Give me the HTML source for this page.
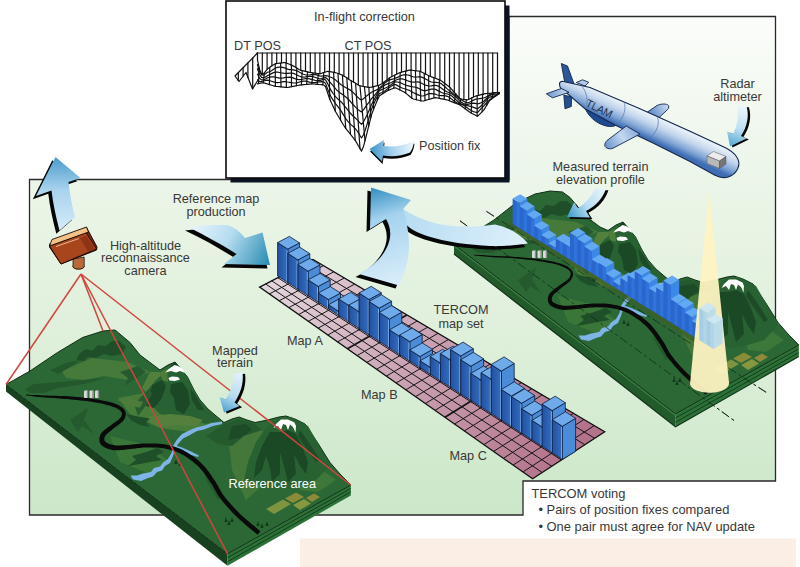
<!DOCTYPE html>
<html><head><meta charset="utf-8"><title>TERCOM</title>
<style>
html,body{margin:0;padding:0;background:#fff;}
body{width:800px;height:567px;overflow:hidden;}
svg{display:block;}
text{font-family:"Liberation Sans",sans-serif;font-size:12.7px;fill:#383838;}
</style></head><body>
<svg width="800" height="567" viewBox="0 0 800 567">

<defs>
<linearGradient id="gPanel" x1="0" y1="0" x2="0" y2="1">
 <stop offset="0" stop-color="#fbfdfa"/><stop offset="0.3" stop-color="#edf6ea"/><stop offset="0.62" stop-color="#e0f0dc"/><stop offset="1" stop-color="#cbe7c8"/>
</linearGradient>
<linearGradient id="gArrUp" x1="0" y1="0" x2="0" y2="1">
 <stop offset="0" stop-color="#4b9ccb"/><stop offset="0.45" stop-color="#a9d3ee"/><stop offset="1" stop-color="#d6ebf8"/>
</linearGradient>
<linearGradient id="gArrRef" gradientUnits="userSpaceOnUse" x1="195" y1="225" x2="268" y2="262">
 <stop offset="0" stop-color="#e4f2fa"/><stop offset="0.45" stop-color="#b4dcf0"/><stop offset="1" stop-color="#2f8fb4"/>
</linearGradient>
<linearGradient id="gArrBig" gradientUnits="userSpaceOnUse" x1="372" y1="190" x2="400" y2="285">
 <stop offset="0" stop-color="#3a93c4"/><stop offset="0.3" stop-color="#a5d2ee"/><stop offset="1" stop-color="#dbeefa"/>
</linearGradient>
<linearGradient id="gArrBig2" gradientUnits="userSpaceOnUse" x1="400" y1="215" x2="528" y2="240">
 <stop offset="0" stop-color="#b7dcf2"/><stop offset="1" stop-color="#def0fb"/>
</linearGradient>
<linearGradient id="gArrPos" gradientUnits="userSpaceOnUse" x1="370" y1="150" x2="414" y2="146">
 <stop offset="0" stop-color="#3a93c4"/><stop offset="0.5" stop-color="#a5d2ee"/><stop offset="1" stop-color="#eef7fc"/>
</linearGradient>
<linearGradient id="gArrMap" gradientUnits="userSpaceOnUse" x1="243" y1="372" x2="224" y2="412">
 <stop offset="0" stop-color="#e8f4fb"/><stop offset="0.6" stop-color="#b6dcf2"/><stop offset="1" stop-color="#4aa0cc"/>
</linearGradient>
<linearGradient id="gArrMeas" gradientUnits="userSpaceOnUse" x1="606" y1="190" x2="568" y2="216">
 <stop offset="0" stop-color="#eaf5fb"/><stop offset="0.55" stop-color="#b6dcf2"/><stop offset="1" stop-color="#3f9cc8"/>
</linearGradient>
<linearGradient id="gArrRad" gradientUnits="userSpaceOnUse" x1="745" y1="106" x2="731" y2="146">
 <stop offset="0" stop-color="#eef7fc"/><stop offset="0.55" stop-color="#bfe0f3"/><stop offset="1" stop-color="#55a8d2"/>
</linearGradient>
<linearGradient id="gGrid" gradientUnits="userSpaceOnUse" x1="270" y1="275" x2="570" y2="455">
 <stop offset="0" stop-color="#e4d6dd"/><stop offset="0.5" stop-color="#c9a0b1"/><stop offset="1" stop-color="#b3738a"/>
</linearGradient>
<linearGradient id="gBarF" x1="0" y1="0" x2="1" y2="0">
 <stop offset="0" stop-color="#2350a0"/><stop offset="1" stop-color="#346fc0"/>
</linearGradient>
<linearGradient id="gBody" gradientUnits="userSpaceOnUse" x1="0" y1="-12" x2="0" y2="12">
 <stop offset="0" stop-color="#c6d9ee"/><stop offset="0.3" stop-color="#dbe8f5"/><stop offset="0.65" stop-color="#8fb3dc"/><stop offset="1" stop-color="#3d6fb4"/>
</linearGradient>
<linearGradient id="gWing" x1="0" y1="0" x2="1" y2="1">
 <stop offset="0" stop-color="#c9dcf0"/><stop offset="1" stop-color="#6f9cd0"/>
</linearGradient>
<linearGradient id="gBeam" x1="0" y1="0" x2="0" y2="1">
 <stop offset="0" stop-color="#fbf6cf"/><stop offset="1" stop-color="#fdf0b8"/>
</linearGradient>
</defs>

<path d="M29.5,179.5 H509 V16.5 H775.5 V481 H523 V515 H29.5 Z" fill="url(#gPanel)" stroke="#2a2a2a" stroke-width="1.3"/>
<rect x="300" y="538.5" width="496" height="29" fill="#faeee5"/>
<line x1="486.5" y1="211.4" x2="768" y2="393.5" stroke="#222" stroke-width="0.9" stroke-dasharray="9,3,3,3"/>
<line x1="460" y1="220.8" x2="734" y2="420.5" stroke="#222" stroke-width="0.9" stroke-dasharray="9,3,3,3"/>
<g id="terrL"><polygon points="6,384.5 227.5,553.8 227.5,565.8 6,391.5" fill="#18421f"/><polygon points="227.5,553.8 350.8,485 350.8,495.5 227.5,565.8" fill="#2c7238"/><line x1="227.5" y1="557.7" x2="350.75" y2="488.5" stroke="#153c1c" stroke-width="1"/><line x1="227.5" y1="561.7" x2="350.75" y2="491.9" stroke="#153c1c" stroke-width="1"/><polygon points="6,384.5 30,371 57.5,352.5 82.5,337.5 103,331 115,330 130,342.5 140,355 152,364 160,370 168,365 175,362 181,369 187.5,377 194,390 200,400 208,409 215,415 224,422.5 232,419 239,417 247,420 255,422.5 267.5,420 279,417 286,416 295,419 305,424 311,433 317.5,442.5 324,453 330,462.5 340,474 350.8,485 227.5,553.8" fill="#2c6835" stroke="#102e16" stroke-width="1"/><path d="M62,371 L92,358 L110,360 L128,362 L150,372 L128,380 L104,376 L84,380 L66,378 Z" fill="#457a3a"/><path d="M118,398 L150,392 L176,402 L200,412 L214,424 L190,432 L160,428 L130,414 Z" fill="#477d3b"/><path d="M228,436 L262,430 L270,452 L262,486 L246,500 L232,470 Z" fill="#44783a"/><path d="M150,372 L166,372 L172,380 L170,396 L158,404 L142,388 Z" fill="#527f3c"/><path d="M110,436 L150,446 L170,462 L150,474 L120,462 Z" fill="#3a7638"/><path d="M296,476 L322,470 L336,480 L318,492 L300,490 Z" fill="#3d7739"/><path d="M80,353 L86,349 L92,351 L98,345 L106,346 L112,341 L119,341 L126,347 L122,354 L112,356 L104,354 L96,358 L88,357 L84,361 L76,360 Z" fill="#1f4f29"/><path d="M50,370 L66,363 L80,360 L72,366 L58,374 Z" fill="#23582d"/><path d="M24.5,389.5 L34,384 L60,382 L105.5,378 L84,384 L58,388 L44,393 L30,393 Z" fill="#23582d"/><path d="M70,420 L88,408 L84,420 L94,434 L82,426 L78,432 Z" fill="#245a2e"/><path d="M120,372 L138,366 L146,372 L134,380 L124,386 L128,378 Z" fill="#245a2e"/><path d="M175,362.3 L166,371 L156,380 L146,392 L138,408 L150,404 L160,414 L176,418 L192,420 L206,424 L218,420 L208,409 L200,400 L194,390 L187.5,377 L181,369 Z" fill="#296232"/><path d="M152,385 L162,380 L166,386 L162,398 L154,408 L146,406 L150,396 Z" fill="#1b4825"/><path d="M171,384 L182,382 L188,390 L190,404 L184,414 L176,410 L174,398 L170,392 Z" fill="#1b4825"/><path d="M160,372 L167,369 L168,382 L162,380 Z" fill="#4c7d3b"/><path d="M190,388 L196,396 L204,410 L198,410 L192,400 Z" fill="#1d4b27"/><path d="M134,404 L150,388 L152,394 L144,408 L138,416 Z" fill="#275c30"/><path d="M279,418 L266,428 L256,442 L248,462 L244,480 L262,486 L290,488 L316,480 L330,466 L317.5,442.5 L308,426 L290,417 Z" fill="#296232"/><path d="M270,432 L262,446 L256,462 L254,478 L262,470 L266,456 L270,468 L272,482 L280,474 L280,452 L284,466 L288,482 L296,474 L294,454 L300,466 L306,474 L308,462 L302,446 L296,434 L288,430 L280,432 Z" fill="#1b4825"/><path d="M300,430 L310,444 L320,460 L316,462 L306,448 L298,436 Z" fill="#1d4b27"/><path d="M224,424 L239,419 L255,424 L262,430 L244,436 L232,446 L218,444 L206,436 Z" fill="#245a2e"/><path d="M232,426 L246,424 L252,430 L240,438 L228,440 Z" fill="#1d4b27"/><path d="M175,362.3 L170,367 L175,366.5 L180,367.5 Z" fill="#173f20"/><path d="M174.5,365 L168,369.5 L165.5,372.5 L171,371 L176,372.5 L180,371 L185,373 L182,368.5 L178,366 Z" fill="#fff"/><path d="M168.5,378 L172,376.5 L178,377 L180,379.5 L175,381 L169.5,380.5 Z" fill="#fff"/><path d="M281,419.5 L276,424 L273.5,428 L278,426 L281,430 L283,424 L286,425 L288,430 L290,424.5 L293,427 L295.5,432.5 L296,426 L294.5,422.5 L288,419.5 Z" fill="#fff"/><path d="M148,417 L170,414 L190,416 L203,420 L196,426 L176,425 L160,427 L150,423 Z" fill="#557f3c"/><path d="M118,400 L130,398.5 L143,402 L140,407.5 L128,406 Z" fill="#4d7c3b"/><path d="M126,414 L138,416.5 L150,418.5 L146,422 L150,427 L140,425 L132,421 Z" fill="#1f4f29"/><path d="M132,456 L146,452 L158,448 L164,452 L156,456 L162,460 L150,462 L140,464 L128,466 L136,460 Z" fill="#1f4f29"/><path d="M204,470 L210,476 L216,488 L222,498 L218,500 L212,490 L206,480 Z" fill="#245a2e"/><polygon points="222,421.5 212,423 203,426 196,427.5 188,431 182,434 177,439.5 173,446 171.5,453 168,459 163,462.5 160,466.5 154,468 151,472 143,473.5 137,475.5 130.5,475.5 133,479.5 141,481 148,478 153,476.5 157,472 162,470.5 165,466 170,463 173,456 175,449 178,444 183,438.5 189,435.5 197,431 204,429.5 213,426 222,424" fill="#7eb4e6"/><polygon points="174,445 182,447.5 190,451 199,455.5 198,457 188,454 180,451 173,449" fill="#7eb4e6"/><polygon points="26,395.4 27.4,395.6 29.3,395.8 31.6,396.1 34.2,396.4 36.9,396.7 39.7,397 42.4,397.2 44.9,397.5 47.4,397.7 49.8,397.8 52.2,398 54.6,398.1 57,398.3 59.6,398.5 62.2,398.7 64.9,398.9 67.8,399.1 70.8,399.4 74,399.7 77.2,400 80.5,400.4 83.7,400.7 86.8,401.1 89.8,401.6 92.7,402.1 95.7,402.6 98.7,403.1 101.6,403.6 104.3,404.2 106.9,404.9 109.3,405.5 111.5,406.2 113.4,406.9 115.1,407.6 116.6,408.3 118,409.1 119.2,409.9 120.1,410.6 120.9,411.4 121.4,412.1 121.8,412.7 121.9,413.3 122,413.9 121.9,414.6 121.7,415.3 121.4,416.2 120.9,417 120.4,417.8 119.7,418.6 118.8,419.5 117.6,420.4 116.3,421.3 114.9,422.3 113.4,423.3 112,424.3 110.7,425.4 109.4,426.3 108.1,427.3 106.8,428.2 105.5,429.2 104.2,430.3 102.9,431.4 101.8,432.5 100.9,433.8 100.3,435.1 99.8,436.4 99.5,437.8 99.3,439.2 99.4,440.6 99.6,442 100.2,443.4 101,444.6 102.1,445.7 103.3,446.6 104.7,447.4 106.2,448.1 107.7,448.7 109.3,449.2 110.9,449.6 112.6,450 114.2,450.2 115.8,450.3 117.4,450.2 119,450.2 120.7,450 122.4,449.9 124.2,449.7 126.2,449.5 128.3,449.3 130.6,449.1 132.9,448.8 135.4,448.4 137.8,448.1 140.3,447.9 142.7,447.6 145.1,447.5 147.4,447.4 149.8,447.4 152.2,447.4 154.5,447.4 156.8,447.5 159.1,447.7 161.4,447.9 163.7,448.3 165.9,448.7 168.1,449.2 170.3,449.7 172.5,450.3 174.6,451.1 176.8,451.9 178.9,452.8 181,453.9 183.2,455.1 185.5,456.5 187.8,458 190,459.6 192.3,461.2 194.4,463 196.5,464.8 198.4,466.6 200.2,468.5 202,470.5 203.6,472.5 205.2,474.7 206.8,476.9 208.3,479.1 209.7,481.2 211.1,483.2 212.4,485.1 213.4,486.9 214.4,488.7 215.3,490.5 216.3,492.3 217.4,494.3 218.7,496.3 220.2,498.3 221.9,500.5 223.7,502.7 225.6,505 227.6,507.3 229.7,509.6 231.9,512 234.1,514.3 236.4,516.6 239,519 241.9,521.6 245,524.3 248.1,526.9 251,529.3 253.7,531.5 255.9,533.3 257.6,534.7 260.4,531.3 258.8,529.9 256.5,528 253.9,525.8 250.9,523.4 247.9,520.8 244.9,518.2 242,515.7 239.6,513.4 237.3,511.1 235.1,508.9 233,506.6 230.9,504.3 229,502.1 227.1,499.9 225.4,497.7 223.8,495.7 222.4,493.7 221.3,491.9 220.3,490.1 219.3,488.4 218.3,486.6 217.3,484.7 216.2,482.8 214.9,480.8 213.5,478.7 212,476.5 210.5,474.3 208.9,472.1 207.2,469.8 205.4,467.6 203.5,465.4 201.6,463.4 199.5,461.5 197.3,459.6 195,457.8 192.6,456 190.2,454.4 187.7,452.8 185.3,451.4 183,450.1 180.6,449 178.3,448 176,447.2 173.7,446.4 171.3,445.8 169,445.2 166.7,444.8 164.3,444.3 161.9,444 159.5,443.7 157.1,443.5 154.6,443.4 152.2,443.4 149.8,443.4 147.3,443.4 144.9,443.5 142.5,443.6 139.9,443.8 137.4,444 134.9,444.2 132.4,444.5 130.1,444.7 127.9,444.9 125.8,445.1 123.9,445.2 122.1,445.3 120.4,445.4 118.8,445.4 117.4,445.4 116,445.4 114.7,445.3 113.4,445 112.1,444.7 110.8,444.4 109.4,443.9 108.2,443.4 107.1,442.9 106.1,442.3 105.4,441.8 105,441.4 104.7,441 104.5,440.5 104.4,439.9 104.3,439.3 104.3,438.5 104.5,437.7 104.7,437 105.1,436.2 105.5,435.5 106.2,434.6 107.2,433.7 108.3,432.8 109.5,431.8 110.8,430.7 112.1,429.7 113.3,428.6 114.5,427.7 115.8,426.7 117.3,425.7 118.7,424.7 120.1,423.6 121.4,422.5 122.6,421.4 123.6,420.2 124.4,419 125,417.8 125.4,416.5 125.7,415.2 125.8,413.9 125.7,412.5 125.3,411.2 124.6,409.9 123.7,408.8 122.6,407.8 121.3,406.9 119.9,406 118.3,405.1 116.5,404.3 114.6,403.6 112.5,402.8 110.3,402.2 107.8,401.5 105,400.9 102.2,400.4 99.2,399.8 96.2,399.3 93.2,398.9 90.2,398.4 87.2,398 84,397.7 80.8,397.3 77.5,397 74.3,396.8 71.1,396.5 68,396.3 65.1,396.1 62.3,396 59.7,395.9 57.1,395.8 54.7,395.7 52.3,395.7 49.9,395.7 47.5,395.6 45.1,395.5 42.5,395.4 39.8,395.3 37,395.1 34.3,395 31.7,394.9 29.4,394.7 27.5,394.6 26,394.6" fill="#0a0a0a"/><polygon points="266,509 283,499.5 291,504 274,514" fill="#7f9440"/><polygon points="285,498.5 296,492.5 304,497 293,503" fill="#8a8c3a"/><polygon points="293,505 304,499 311,503.5 300,510" fill="#86983f"/><polygon points="306,498 314,493.5 320,497 312,502" fill="#8e8a3a"/><rect x="84" y="390.5" width="4" height="7.5" rx="1" fill="#d9d9d9"/><rect x="86.8" y="390.5" width="1.3" height="7.5" fill="#8a8a8a"/><rect x="89.5" y="390.5" width="4" height="7.5" rx="1" fill="#d9d9d9"/><rect x="92.3" y="390.5" width="1.3" height="7.5" fill="#8a8a8a"/><rect x="95" y="390.5" width="4" height="7.5" rx="1" fill="#d9d9d9"/><rect x="97.8" y="390.5" width="1.3" height="7.5" fill="#8a8a8a"/><path d="M176,459 l-1.6,5 h3.2 Z" fill="#123a18"/><path d="M180,461 l-1.6,5 h3.2 Z" fill="#123a18"/><path d="M226,517 l-1.6,5 h3.2 Z" fill="#123a18"/><path d="M229,520 l-1.6,5 h3.2 Z" fill="#123a18"/><path d="M232,517 l-1.6,5 h3.2 Z" fill="#123a18"/><path d="M262,523 l-1.6,5 h3.2 Z" fill="#123a18"/><path d="M267,521 l-1.6,5 h3.2 Z" fill="#123a18"/><path d="M258,521 l-1.6,5 h3.2 Z" fill="#123a18"/></g>
<g transform="translate(448,-140)"><g id="terrR"><polygon points="6,384.5 227.5,553.8 227.5,566.8 6,394" fill="#235a2c"/><polygon points="227.5,553.8 350.8,485 350.8,496.5 227.5,566.8" fill="#2c7238"/><line x1="227.5" y1="558" x2="350.75" y2="488.8" stroke="#153c1c" stroke-width="1"/><line x1="227.5" y1="562.3" x2="350.75" y2="492.6" stroke="#153c1c" stroke-width="1"/><polyline points="6,394 227.5,566.8 350.8,496.5" fill="none" stroke="#133519" stroke-width="1.2"/><line x1="6.5" y1="386" x2="227.5" y2="555.2" stroke="#3a7f42" stroke-width="1.6"/><polygon points="6,384.5 30,370 46,360 67,343.5 87,334 102,331 114.5,332 122,337.5 132,349.5 142,359.5 152,367 160,370.5 168,365 175,362 181,369 187.5,377 194,390 200,400 208,409 215,415 224,422.5 232,419 239,417 247,420 255,422.5 267.5,420 279,417 286,416 295,419 305,424 311,433 317.5,442.5 324,453 330,462.5 340,474 350.8,485 227.5,553.8" fill="#2c6835" stroke="#102e16" stroke-width="1"/><path d="M62,371 L92,358 L110,360 L128,362 L150,372 L128,380 L104,376 L84,380 L66,378 Z" fill="#457a3a"/><path d="M118,398 L150,392 L176,402 L200,412 L214,424 L190,432 L160,428 L130,414 Z" fill="#477d3b"/><path d="M228,436 L262,430 L270,452 L262,486 L246,500 L232,470 Z" fill="#44783a"/><path d="M150,372 L166,372 L172,380 L170,396 L158,404 L142,388 Z" fill="#527f3c"/><path d="M110,436 L150,446 L170,462 L150,474 L120,462 Z" fill="#3a7638"/><path d="M296,476 L322,470 L336,480 L318,492 L300,490 Z" fill="#3d7739"/><path d="M80,353 L86,349 L92,351 L98,345 L106,346 L112,341 L119,341 L126,347 L122,354 L112,356 L104,354 L96,358 L88,357 L84,361 L76,360 Z" fill="#1f4f29"/><path d="M50,370 L66,363 L80,360 L72,366 L58,374 Z" fill="#23582d"/><path d="M24.5,389.5 L34,384 L60,382 L105.5,378 L84,384 L58,388 L44,393 L30,393 Z" fill="#23582d"/><path d="M70,420 L88,408 L84,420 L94,434 L82,426 L78,432 Z" fill="#245a2e"/><path d="M120,372 L138,366 L146,372 L134,380 L124,386 L128,378 Z" fill="#245a2e"/><path d="M175,362.3 L166,371 L156,380 L146,392 L138,408 L150,404 L160,414 L176,418 L192,420 L206,424 L218,420 L208,409 L200,400 L194,390 L187.5,377 L181,369 Z" fill="#296232"/><path d="M152,385 L162,380 L166,386 L162,398 L154,408 L146,406 L150,396 Z" fill="#1b4825"/><path d="M171,384 L182,382 L188,390 L190,404 L184,414 L176,410 L174,398 L170,392 Z" fill="#1b4825"/><path d="M160,372 L167,369 L168,382 L162,380 Z" fill="#4c7d3b"/><path d="M190,388 L196,396 L204,410 L198,410 L192,400 Z" fill="#1d4b27"/><path d="M134,404 L150,388 L152,394 L144,408 L138,416 Z" fill="#275c30"/><path d="M279,418 L266,428 L256,442 L248,462 L244,480 L262,486 L290,488 L316,480 L330,466 L317.5,442.5 L308,426 L290,417 Z" fill="#296232"/><path d="M270,432 L262,446 L256,462 L254,478 L262,470 L266,456 L270,468 L272,482 L280,474 L280,452 L284,466 L288,482 L296,474 L294,454 L300,466 L306,474 L308,462 L302,446 L296,434 L288,430 L280,432 Z" fill="#1b4825"/><path d="M300,430 L310,444 L320,460 L316,462 L306,448 L298,436 Z" fill="#1d4b27"/><path d="M224,424 L239,419 L255,424 L262,430 L244,436 L232,446 L218,444 L206,436 Z" fill="#245a2e"/><path d="M232,426 L246,424 L252,430 L240,438 L228,440 Z" fill="#1d4b27"/><path d="M175,362.3 L170,367 L175,366.5 L180,367.5 Z" fill="#173f20"/><path d="M174.5,365 L168,369.5 L165.5,372.5 L171,371 L176,372.5 L180,371 L185,373 L182,368.5 L178,366 Z" fill="#fff"/><path d="M168.5,378 L172,376.5 L178,377 L180,379.5 L175,381 L169.5,380.5 Z" fill="#fff"/><path d="M281,419.5 L276,424 L273.5,428 L278,426 L281,430 L283,424 L286,425 L288,430 L290,424.5 L293,427 L295.5,432.5 L296,426 L294.5,422.5 L288,419.5 Z" fill="#fff"/><path d="M148,417 L170,414 L190,416 L203,420 L196,426 L176,425 L160,427 L150,423 Z" fill="#557f3c"/><path d="M118,400 L130,398.5 L143,402 L140,407.5 L128,406 Z" fill="#4d7c3b"/><path d="M126,414 L138,416.5 L150,418.5 L146,422 L150,427 L140,425 L132,421 Z" fill="#1f4f29"/><path d="M132,456 L146,452 L158,448 L164,452 L156,456 L162,460 L150,462 L140,464 L128,466 L136,460 Z" fill="#1f4f29"/><path d="M204,470 L210,476 L216,488 L222,498 L218,500 L212,490 L206,480 Z" fill="#245a2e"/><polygon points="222,421.5 212,423 203,426 196,427.5 188,431 182,434 177,439.5 173,446 171.5,453 168,459 163,462.5 160,466.5 154,468 151,472 143,473.5 137,475.5 130.5,475.5 133,479.5 141,481 148,478 153,476.5 157,472 162,470.5 165,466 170,463 173,456 175,449 178,444 183,438.5 189,435.5 197,431 204,429.5 213,426 222,424" fill="#7eb4e6"/><polygon points="174,445 182,447.5 190,451 199,455.5 198,457 188,454 180,451 173,449" fill="#7eb4e6"/><polygon points="26,395.4 27.4,395.6 29.4,395.8 31.6,396 34.2,396.2 36.9,396.5 39.7,396.7 42.4,397 45,397.2 47.4,397.4 49.8,397.5 52.2,397.6 54.6,397.7 57.1,397.8 59.6,398 62.2,398.1 64.9,398.3 67.8,398.6 70.9,398.8 74.1,399.1 77.3,399.4 80.5,399.7 83.7,400.1 86.9,400.5 89.9,400.9 92.8,401.4 95.8,401.8 98.8,402.4 101.7,402.9 104.5,403.5 107.1,404.1 109.5,404.8 111.7,405.4 113.6,406.2 115.4,406.9 117,407.7 118.4,408.4 119.6,409.2 120.7,410 121.5,410.8 122.1,411.6 122.5,412.4 122.7,413.1 122.7,413.9 122.6,414.7 122.4,415.6 122,416.5 121.5,417.4 120.9,418.2 120.2,419.1 119.2,420 118,420.9 116.7,421.8 115.2,422.8 113.8,423.8 112.3,424.8 111,425.8 109.8,426.7 108.4,427.7 107.1,428.6 105.8,429.6 104.5,430.7 103.3,431.7 102.2,432.8 101.4,434 100.7,435.3 100.3,436.6 99.9,437.9 99.8,439.2 99.9,440.5 100.1,441.8 100.6,443.1 101.4,444.3 102.4,445.4 103.6,446.2 104.9,447 106.4,447.7 107.9,448.3 109.5,448.8 111,449.2 112.6,449.6 114.2,449.8 115.8,449.9 117.4,449.9 119,449.8 120.7,449.7 122.4,449.6 124.2,449.4 126.1,449.3 128.3,449.1 130.5,448.9 132.9,448.6 135.4,448.3 137.8,448 140.3,447.7 142.7,447.5 145.1,447.4 147.4,447.3 149.8,447.3 152.2,447.3 154.5,447.3 156.8,447.4 159.2,447.6 161.4,447.8 163.7,448.2 165.9,448.6 168.1,449.1 170.3,449.6 172.5,450.3 174.6,451 176.8,451.8 178.9,452.7 181.1,453.8 183.3,455 185.5,456.4 187.8,457.9 190.1,459.5 192.4,461.1 194.5,462.9 196.6,464.7 198.5,466.5 200.3,468.4 202.1,470.4 203.8,472.5 205.4,474.6 206.9,476.8 208.4,479 209.9,481.1 211.3,483.2 212.5,485.1 213.5,486.9 214.5,488.6 215.5,490.4 216.5,492.3 217.6,494.2 218.8,496.2 220.3,498.3 222,500.4 223.8,502.6 225.7,504.9 227.7,507.2 229.8,509.5 232,511.9 234.2,514.2 236.5,516.5 239.1,518.9 242,521.5 245.1,524.1 248.2,526.7 251.1,529.2 253.8,531.4 256,533.2 257.6,534.6 260.4,531.4 258.7,530 256.4,528.1 253.8,526 250.8,523.5 247.8,520.9 244.8,518.3 241.9,515.8 239.5,513.5 237.2,511.3 235,509 232.9,506.7 230.8,504.4 228.9,502.2 227,500 225.3,497.8 223.7,495.7 222.3,493.8 221.1,492 220.1,490.2 219.2,488.4 218.2,486.6 217.2,484.8 216.1,482.8 214.7,480.8 213.3,478.8 211.9,476.6 210.4,474.4 208.8,472.1 207.1,469.9 205.3,467.7 203.4,465.5 201.5,463.5 199.4,461.6 197.2,459.7 194.9,457.9 192.5,456.1 190.1,454.5 187.7,452.9 185.3,451.5 182.9,450.2 180.6,449.1 178.3,448.1 175.9,447.3 173.6,446.5 171.3,445.9 169,445.3 166.7,444.9 164.3,444.4 161.9,444.1 159.5,443.8 157.1,443.6 154.6,443.5 152.2,443.5 149.8,443.5 147.3,443.5 144.9,443.6 142.5,443.7 139.9,443.9 137.4,444.1 134.9,444.4 132.5,444.7 130.1,444.9 127.9,445.2 125.9,445.3 123.9,445.4 122.1,445.6 120.4,445.7 118.8,445.7 117.4,445.8 116,445.7 114.7,445.6 113.4,445.4 112,445.1 110.7,444.8 109.3,444.3 108,443.8 106.9,443.3 105.9,442.7 105.1,442.2 104.6,441.7 104.3,441.2 104,440.6 103.9,440 103.8,439.2 103.9,438.4 104,437.6 104.3,436.8 104.6,436 105.1,435.2 105.9,434.3 106.9,433.3 108,432.4 109.2,431.4 110.5,430.3 111.8,429.3 113,428.2 114.2,427.2 115.5,426.2 116.9,425.2 118.3,424.2 119.7,423.1 121,422 122.1,420.9 123.1,419.8 123.7,418.6 124.3,417.5 124.7,416.3 125,415.1 125.1,413.9 124.9,412.7 124.5,411.5 123.9,410.4 123.1,409.4 122,408.4 120.8,407.5 119.5,406.6 117.9,405.8 116.2,405 114.3,404.3 112.3,403.6 110.1,402.9 107.6,402.2 104.9,401.6 102.1,401.1 99.1,400.5 96.1,400 93.1,399.6 90.1,399.1 87.1,398.7 83.9,398.3 80.7,398 77.5,397.7 74.2,397.4 71,397.1 68,396.9 65.1,396.7 62.3,396.5 59.7,396.3 57.1,396.2 54.7,396.2 52.2,396.1 49.8,396 47.5,395.9 45,395.8 42.5,395.7 39.8,395.5 37,395.3 34.3,395.1 31.7,395 29.4,394.8 27.5,394.7 26,394.6" fill="#0a0a0a"/><polygon points="266,509 283,499.5 291,504 274,514" fill="#7f9440"/><polygon points="285,498.5 296,492.5 304,497 293,503" fill="#8a8c3a"/><polygon points="293,505 304,499 311,503.5 300,510" fill="#86983f"/><polygon points="306,498 314,493.5 320,497 312,502" fill="#8e8a3a"/><rect x="84" y="390.5" width="4" height="7.5" rx="1" fill="#d9d9d9"/><rect x="86.8" y="390.5" width="1.3" height="7.5" fill="#8a8a8a"/><rect x="89.5" y="390.5" width="4" height="7.5" rx="1" fill="#d9d9d9"/><rect x="92.3" y="390.5" width="1.3" height="7.5" fill="#8a8a8a"/><rect x="95" y="390.5" width="4" height="7.5" rx="1" fill="#d9d9d9"/><rect x="97.8" y="390.5" width="1.3" height="7.5" fill="#8a8a8a"/><path d="M176,459 l-1.6,5 h3.2 Z" fill="#123a18"/><path d="M180,461 l-1.6,5 h3.2 Z" fill="#123a18"/><path d="M226,517 l-1.6,5 h3.2 Z" fill="#123a18"/><path d="M229,520 l-1.6,5 h3.2 Z" fill="#123a18"/><path d="M232,517 l-1.6,5 h3.2 Z" fill="#123a18"/><path d="M262,523 l-1.6,5 h3.2 Z" fill="#123a18"/><path d="M267,521 l-1.6,5 h3.2 Z" fill="#123a18"/><path d="M258,521 l-1.6,5 h3.2 Z" fill="#123a18"/></g></g>
<line x1="81" y1="274" x2="6" y2="384.5" stroke="#cf463e" stroke-width="1.5"/>
<line x1="81" y1="274" x2="103" y2="331" stroke="#cf463e" stroke-width="1.5"/>
<line x1="81" y1="274" x2="227.5" y2="553.8" stroke="#cf463e" stroke-width="1.5"/>
<line x1="81" y1="274" x2="350.8" y2="485" stroke="#cf463e" stroke-width="1.5"/>
<polygon points="259.6,287.1 313,259.5 604.7,431.8 532.6,478.8" fill="url(#gGrid)" stroke="#111" stroke-width="1.3"/>
<line x1="269.4" y1="293.9" x2="323.4" y2="265.7" stroke="#151515" stroke-width="1.0"/><line x1="279.1" y1="300.8" x2="333.8" y2="271.8" stroke="#151515" stroke-width="1.0"/><line x1="288.9" y1="307.6" x2="344.3" y2="278" stroke="#151515" stroke-width="1.0"/><line x1="298.6" y1="314.5" x2="354.7" y2="284.1" stroke="#151515" stroke-width="1.0"/><line x1="308.4" y1="321.3" x2="365.1" y2="290.3" stroke="#151515" stroke-width="1.0"/><line x1="318.1" y1="328.2" x2="375.5" y2="296.4" stroke="#151515" stroke-width="1.0"/><line x1="327.9" y1="335" x2="385.9" y2="302.6" stroke="#151515" stroke-width="1.0"/><line x1="337.6" y1="341.9" x2="396.3" y2="308.7" stroke="#151515" stroke-width="1.0"/><line x1="347.4" y1="348.7" x2="406.8" y2="314.9" stroke="#151515" stroke-width="1.7"/><line x1="357.1" y1="355.6" x2="417.2" y2="321" stroke="#151515" stroke-width="1.0"/><line x1="366.9" y1="362.4" x2="427.6" y2="327.2" stroke="#151515" stroke-width="1.0"/><line x1="376.6" y1="369.3" x2="438" y2="333.3" stroke="#151515" stroke-width="1.0"/><line x1="386.4" y1="376.1" x2="448.4" y2="339.5" stroke="#151515" stroke-width="1.0"/><line x1="396.1" y1="383" x2="458.9" y2="345.6" stroke="#151515" stroke-width="1.0"/><line x1="405.9" y1="389.8" x2="469.3" y2="351.8" stroke="#151515" stroke-width="1.0"/><line x1="415.6" y1="396.6" x2="479.7" y2="358" stroke="#151515" stroke-width="1.0"/><line x1="425.4" y1="403.5" x2="490.1" y2="364.1" stroke="#151515" stroke-width="1.0"/><line x1="435.1" y1="410.3" x2="500.5" y2="370.3" stroke="#151515" stroke-width="1.0"/><line x1="444.9" y1="417.2" x2="510.9" y2="376.4" stroke="#151515" stroke-width="1.7"/><line x1="454.6" y1="424" x2="521.4" y2="382.6" stroke="#151515" stroke-width="1.0"/><line x1="464.4" y1="430.9" x2="531.8" y2="388.7" stroke="#151515" stroke-width="1.0"/><line x1="474.1" y1="437.7" x2="542.2" y2="394.9" stroke="#151515" stroke-width="1.0"/><line x1="483.9" y1="444.6" x2="552.6" y2="401" stroke="#151515" stroke-width="1.0"/><line x1="493.6" y1="451.4" x2="563" y2="407.2" stroke="#151515" stroke-width="1.0"/><line x1="503.4" y1="458.3" x2="573.4" y2="413.3" stroke="#151515" stroke-width="1.0"/><line x1="513.1" y1="465.1" x2="583.9" y2="419.5" stroke="#151515" stroke-width="1.0"/><line x1="522.9" y1="472" x2="594.3" y2="425.6" stroke="#151515" stroke-width="1.0"/><line x1="265.7" y1="284" x2="542.2" y2="472.5" stroke="#151515" stroke-width="1"/><line x1="271.7" y1="280.8" x2="551.8" y2="466.3" stroke="#151515" stroke-width="1"/><line x1="277.8" y1="277.7" x2="561.4" y2="460" stroke="#151515" stroke-width="1"/><line x1="289.7" y1="271.5" x2="574.9" y2="451.2" stroke="#151515" stroke-width="1"/><line x1="297.5" y1="267.5" x2="584.8" y2="444.7" stroke="#151515" stroke-width="1"/><line x1="305.2" y1="263.5" x2="594.8" y2="438.3" stroke="#151515" stroke-width="1"/>
<g id="barsL"><polygon points="287.8,282.5 299.6,276.3 299.6,242.9 287.8,249.1" fill="#4b8cd9" stroke="#0b1a3a" stroke-width="0.8" stroke-linejoin="round"/><polygon points="277.6,276 287.8,282.5 287.8,249.1 277.6,242.6" fill="url(#gBarF)" stroke="#0b1a3a" stroke-width="0.8" stroke-linejoin="round"/><line x1="287" y1="281.5" x2="287" y2="249.9" stroke="#86b8f0" stroke-width="0.9"/><polygon points="277.6,242.6 287.8,249.1 299.6,242.9 289.4,236.4" fill="#6fabea" stroke="#0b1a3a" stroke-width="0.8" stroke-linejoin="round"/><polygon points="297.9,289.1 309.8,282.8 309.8,253.6 297.9,259.9" fill="#4b8cd9" stroke="#0b1a3a" stroke-width="0.8" stroke-linejoin="round"/><polygon points="287.8,282.5 297.9,289.1 297.9,259.9 287.8,253.3" fill="url(#gBarF)" stroke="#0b1a3a" stroke-width="0.8" stroke-linejoin="round"/><line x1="297.1" y1="288.1" x2="297.1" y2="260.7" stroke="#86b8f0" stroke-width="0.9"/><polygon points="287.8,253.3 297.9,259.9 309.8,253.6 299.6,247.1" fill="#6fabea" stroke="#0b1a3a" stroke-width="0.8" stroke-linejoin="round"/><polygon points="308.1,295.6 320,289.3 320,264.9 308.1,271.2" fill="#4b8cd9" stroke="#0b1a3a" stroke-width="0.8" stroke-linejoin="round"/><polygon points="297.9,289.1 308.1,295.6 308.1,271.2 297.9,264.7" fill="url(#gBarF)" stroke="#0b1a3a" stroke-width="0.8" stroke-linejoin="round"/><line x1="307.3" y1="294.6" x2="307.3" y2="272" stroke="#86b8f0" stroke-width="0.9"/><polygon points="297.9,264.7 308.1,271.2 320,264.9 309.8,258.4" fill="#6fabea" stroke="#0b1a3a" stroke-width="0.8" stroke-linejoin="round"/><polygon points="318.3,302.2 330.2,295.8 330.2,280 318.3,286.4" fill="#4b8cd9" stroke="#0b1a3a" stroke-width="0.8" stroke-linejoin="round"/><polygon points="308.1,295.6 318.3,302.2 318.3,286.4 308.1,279.8" fill="url(#gBarF)" stroke="#0b1a3a" stroke-width="0.8" stroke-linejoin="round"/><line x1="317.5" y1="301.2" x2="317.5" y2="287.2" stroke="#86b8f0" stroke-width="0.9"/><polygon points="308.1,279.8 318.3,286.4 330.2,280 320.1,273.4" fill="#6fabea" stroke="#0b1a3a" stroke-width="0.8" stroke-linejoin="round"/><polygon points="328.5,308.7 340.5,302.3 340.5,293.1 328.5,299.5" fill="#4b8cd9" stroke="#0b1a3a" stroke-width="0.8" stroke-linejoin="round"/><polygon points="318.3,302.2 328.5,308.7 328.5,299.5 318.3,293" fill="url(#gBarF)" stroke="#0b1a3a" stroke-width="0.8" stroke-linejoin="round"/><line x1="327.7" y1="307.7" x2="327.7" y2="300.3" stroke="#86b8f0" stroke-width="0.9"/><polygon points="318.3,293 328.5,299.5 340.5,293.1 330.3,286.5" fill="#6fabea" stroke="#0b1a3a" stroke-width="0.8" stroke-linejoin="round"/><polygon points="338.6,315.3 350.7,308.8 350.7,304.8 338.6,311.3" fill="#4b8cd9" stroke="#0b1a3a" stroke-width="0.8" stroke-linejoin="round"/><polygon points="328.5,308.7 338.6,315.3 338.6,311.3 328.5,304.7" fill="url(#gBarF)" stroke="#0b1a3a" stroke-width="0.8" stroke-linejoin="round"/><line x1="337.8" y1="314.3" x2="337.8" y2="312.1" stroke="#86b8f0" stroke-width="0.9"/><polygon points="328.5,304.7 338.6,311.3 350.7,304.8 340.5,298.2" fill="#6fabea" stroke="#0b1a3a" stroke-width="0.8" stroke-linejoin="round"/><polygon points="348.8,321.8 360.9,315.2 360.9,298.8 348.8,305.4" fill="#4b8cd9" stroke="#0b1a3a" stroke-width="0.8" stroke-linejoin="round"/><polygon points="338.6,315.3 348.8,321.8 348.8,305.4 338.6,298.9" fill="url(#gBarF)" stroke="#0b1a3a" stroke-width="0.8" stroke-linejoin="round"/><line x1="348" y1="320.8" x2="348" y2="306.2" stroke="#86b8f0" stroke-width="0.9"/><polygon points="338.6,298.9 348.8,305.4 360.9,298.8 350.7,292.3" fill="#6fabea" stroke="#0b1a3a" stroke-width="0.8" stroke-linejoin="round"/><polygon points="359,328.4 371.1,321.7 371.1,305 359,311.7" fill="#4b8cd9" stroke="#0b1a3a" stroke-width="0.8" stroke-linejoin="round"/><polygon points="348.8,321.8 359,328.4 359,311.7 348.8,305.1" fill="url(#gBarF)" stroke="#0b1a3a" stroke-width="0.8" stroke-linejoin="round"/><line x1="358.2" y1="327.4" x2="358.2" y2="312.5" stroke="#86b8f0" stroke-width="0.9"/><polygon points="348.8,305.1 359,311.7 371.1,305 361,298.5" fill="#6fabea" stroke="#0b1a3a" stroke-width="0.8" stroke-linejoin="round"/><polygon points="369.1,334.9 381.3,328.2 381.3,292.8 369.1,299.5" fill="#4b8cd9" stroke="#0b1a3a" stroke-width="0.8" stroke-linejoin="round"/><polygon points="359,328.4 369.1,334.9 369.1,299.5 359,293" fill="url(#gBarF)" stroke="#0b1a3a" stroke-width="0.8" stroke-linejoin="round"/><line x1="368.3" y1="333.9" x2="368.3" y2="300.3" stroke="#86b8f0" stroke-width="0.9"/><polygon points="359,293 369.1,299.5 381.3,292.8 371.2,286.3" fill="#6fabea" stroke="#0b1a3a" stroke-width="0.8" stroke-linejoin="round"/><polygon points="379.3,341.5 391.6,334.7 391.6,301.3 379.3,308.1" fill="#4b8cd9" stroke="#0b1a3a" stroke-width="0.8" stroke-linejoin="round"/><polygon points="369.1,334.9 379.3,341.5 379.3,308.1 369.1,301.5" fill="url(#gBarF)" stroke="#0b1a3a" stroke-width="0.8" stroke-linejoin="round"/><line x1="378.5" y1="340.5" x2="378.5" y2="308.9" stroke="#86b8f0" stroke-width="0.9"/><polygon points="369.1,301.5 379.3,308.1 391.6,301.3 381.4,294.7" fill="#6fabea" stroke="#0b1a3a" stroke-width="0.8" stroke-linejoin="round"/><polygon points="389.5,348 401.8,341.2 401.8,312.2 389.5,319" fill="#4b8cd9" stroke="#0b1a3a" stroke-width="0.8" stroke-linejoin="round"/><polygon points="379.3,341.5 389.5,348 389.5,319 379.3,312.5" fill="url(#gBarF)" stroke="#0b1a3a" stroke-width="0.8" stroke-linejoin="round"/><line x1="388.7" y1="347" x2="388.7" y2="319.8" stroke="#86b8f0" stroke-width="0.9"/><polygon points="379.3,312.5 389.5,319 401.8,312.2 391.6,305.6" fill="#6fabea" stroke="#0b1a3a" stroke-width="0.8" stroke-linejoin="round"/><polygon points="399.6,354.6 412,347.7 412,329.5 399.6,336.4" fill="#4b8cd9" stroke="#0b1a3a" stroke-width="0.8" stroke-linejoin="round"/><polygon points="389.5,348 399.6,354.6 399.6,336.4 389.5,329.8" fill="url(#gBarF)" stroke="#0b1a3a" stroke-width="0.8" stroke-linejoin="round"/><line x1="398.8" y1="353.6" x2="398.8" y2="337.2" stroke="#86b8f0" stroke-width="0.9"/><polygon points="389.5,329.8 399.6,336.4 412,329.5 401.8,322.9" fill="#6fabea" stroke="#0b1a3a" stroke-width="0.8" stroke-linejoin="round"/><polygon points="409.8,361.1 422.2,354.1 422.2,334.6 409.8,341.6" fill="#4b8cd9" stroke="#0b1a3a" stroke-width="0.8" stroke-linejoin="round"/><polygon points="399.6,354.6 409.8,361.1 409.8,341.6 399.6,335.1" fill="url(#gBarF)" stroke="#0b1a3a" stroke-width="0.8" stroke-linejoin="round"/><line x1="409" y1="360.1" x2="409" y2="342.4" stroke="#86b8f0" stroke-width="0.9"/><polygon points="399.6,335.1 409.8,341.6 422.2,334.6 412.1,328.1" fill="#6fabea" stroke="#0b1a3a" stroke-width="0.8" stroke-linejoin="round"/><polygon points="420,367.7 432.5,360.6 432.5,349.4 420,356.5" fill="#4b8cd9" stroke="#0b1a3a" stroke-width="0.8" stroke-linejoin="round"/><polygon points="409.8,361.1 420,367.7 420,356.5 409.8,349.9" fill="url(#gBarF)" stroke="#0b1a3a" stroke-width="0.8" stroke-linejoin="round"/><line x1="419.2" y1="366.7" x2="419.2" y2="357.3" stroke="#86b8f0" stroke-width="0.9"/><polygon points="409.8,349.9 420,356.5 432.5,349.4 422.3,342.9" fill="#6fabea" stroke="#0b1a3a" stroke-width="0.8" stroke-linejoin="round"/><polygon points="430.2,374.2 442.7,367.1 442.7,360.2 430.2,367.3" fill="#4b8cd9" stroke="#0b1a3a" stroke-width="0.8" stroke-linejoin="round"/><polygon points="420,367.7 430.2,374.2 430.2,367.3 420,360.8" fill="url(#gBarF)" stroke="#0b1a3a" stroke-width="0.8" stroke-linejoin="round"/><line x1="429.4" y1="373.2" x2="429.4" y2="368.1" stroke="#86b8f0" stroke-width="0.9"/><polygon points="420,360.8 430.2,367.3 442.7,360.2 432.5,353.7" fill="#6fabea" stroke="#0b1a3a" stroke-width="0.8" stroke-linejoin="round"/><polygon points="440.3,380.8 452.9,373.6 452.9,355.9 440.3,363.1" fill="#4b8cd9" stroke="#0b1a3a" stroke-width="0.8" stroke-linejoin="round"/><polygon points="430.2,374.2 440.3,380.8 440.3,363.1 430.2,356.5" fill="url(#gBarF)" stroke="#0b1a3a" stroke-width="0.8" stroke-linejoin="round"/><line x1="439.5" y1="379.8" x2="439.5" y2="363.9" stroke="#86b8f0" stroke-width="0.9"/><polygon points="430.2,356.5 440.3,363.1 452.9,355.9 442.7,349.3" fill="#6fabea" stroke="#0b1a3a" stroke-width="0.8" stroke-linejoin="round"/><polygon points="450.5,387.3 463.1,380.1 463.1,352.8 450.5,360" fill="#4b8cd9" stroke="#0b1a3a" stroke-width="0.8" stroke-linejoin="round"/><polygon points="440.3,380.8 450.5,387.3 450.5,360 440.3,353.5" fill="url(#gBarF)" stroke="#0b1a3a" stroke-width="0.8" stroke-linejoin="round"/><line x1="449.7" y1="386.3" x2="449.7" y2="360.8" stroke="#86b8f0" stroke-width="0.9"/><polygon points="440.3,353.5 450.5,360 463.1,352.8 452.9,346.2" fill="#6fabea" stroke="#0b1a3a" stroke-width="0.8" stroke-linejoin="round"/><polygon points="460.7,393.9 473.3,386.6 473.3,348.7 460.7,356" fill="#4b8cd9" stroke="#0b1a3a" stroke-width="0.8" stroke-linejoin="round"/><polygon points="450.5,387.3 460.7,393.9 460.7,356 450.5,349.4" fill="url(#gBarF)" stroke="#0b1a3a" stroke-width="0.8" stroke-linejoin="round"/><line x1="459.9" y1="392.9" x2="459.9" y2="356.8" stroke="#86b8f0" stroke-width="0.9"/><polygon points="450.5,349.4 460.7,356 473.3,348.7 463.2,342.1" fill="#6fabea" stroke="#0b1a3a" stroke-width="0.8" stroke-linejoin="round"/><polygon points="470.8,400.4 483.6,393 483.6,358.8 470.8,366.2" fill="#4b8cd9" stroke="#0b1a3a" stroke-width="0.8" stroke-linejoin="round"/><polygon points="460.7,393.9 470.8,400.4 470.8,366.2 460.7,359.7" fill="url(#gBarF)" stroke="#0b1a3a" stroke-width="0.8" stroke-linejoin="round"/><line x1="470" y1="399.4" x2="470" y2="367" stroke="#86b8f0" stroke-width="0.9"/><polygon points="460.7,359.7 470.8,366.2 483.6,358.8 473.4,352.3" fill="#6fabea" stroke="#0b1a3a" stroke-width="0.8" stroke-linejoin="round"/><polygon points="481,407 493.8,399.5 493.8,372.5 481,380" fill="#4b8cd9" stroke="#0b1a3a" stroke-width="0.8" stroke-linejoin="round"/><polygon points="470.8,400.4 481,407 481,380 470.8,373.4" fill="url(#gBarF)" stroke="#0b1a3a" stroke-width="0.8" stroke-linejoin="round"/><line x1="480.2" y1="406" x2="480.2" y2="380.8" stroke="#86b8f0" stroke-width="0.9"/><polygon points="470.8,373.4 481,380 493.8,372.5 483.6,366" fill="#6fabea" stroke="#0b1a3a" stroke-width="0.8" stroke-linejoin="round"/><polygon points="491.2,413.5 504,406 504,371.7 491.2,379.2" fill="#4b8cd9" stroke="#0b1a3a" stroke-width="0.8" stroke-linejoin="round"/><polygon points="481,407 491.2,413.5 491.2,379.2 481,372.7" fill="url(#gBarF)" stroke="#0b1a3a" stroke-width="0.8" stroke-linejoin="round"/><line x1="490.4" y1="412.5" x2="490.4" y2="380" stroke="#86b8f0" stroke-width="0.9"/><polygon points="481,372.7 491.2,379.2 504,371.7 493.8,365.2" fill="#6fabea" stroke="#0b1a3a" stroke-width="0.8" stroke-linejoin="round"/><polygon points="501.3,420.1 514.2,412.5 514.2,363.5 501.3,371.1" fill="#4b8cd9" stroke="#0b1a3a" stroke-width="0.8" stroke-linejoin="round"/><polygon points="491.2,413.5 501.3,420.1 501.3,371.1 491.2,364.5" fill="url(#gBarF)" stroke="#0b1a3a" stroke-width="0.8" stroke-linejoin="round"/><line x1="500.5" y1="419.1" x2="500.5" y2="371.9" stroke="#86b8f0" stroke-width="0.9"/><polygon points="491.2,364.5 501.3,371.1 514.2,363.5 504.1,356.9" fill="#6fabea" stroke="#0b1a3a" stroke-width="0.8" stroke-linejoin="round"/><polygon points="511.5,426.6 524.5,419 524.5,388.4 511.5,396" fill="#4b8cd9" stroke="#0b1a3a" stroke-width="0.8" stroke-linejoin="round"/><polygon points="501.3,420.1 511.5,426.6 511.5,396 501.3,389.5" fill="url(#gBarF)" stroke="#0b1a3a" stroke-width="0.8" stroke-linejoin="round"/><line x1="510.7" y1="425.6" x2="510.7" y2="396.8" stroke="#86b8f0" stroke-width="0.9"/><polygon points="501.3,389.5 511.5,396 524.5,388.4 514.3,381.8" fill="#6fabea" stroke="#0b1a3a" stroke-width="0.8" stroke-linejoin="round"/><polygon points="521.7,433.2 534.7,425.5 534.7,395.5 521.7,403.2" fill="#4b8cd9" stroke="#0b1a3a" stroke-width="0.8" stroke-linejoin="round"/><polygon points="511.5,426.6 521.7,433.2 521.7,403.2 511.5,396.6" fill="url(#gBarF)" stroke="#0b1a3a" stroke-width="0.8" stroke-linejoin="round"/><line x1="520.9" y1="432.2" x2="520.9" y2="404" stroke="#86b8f0" stroke-width="0.9"/><polygon points="511.5,396.6 521.7,403.2 534.7,395.5 524.5,388.9" fill="#6fabea" stroke="#0b1a3a" stroke-width="0.8" stroke-linejoin="round"/><polygon points="531.9,439.7 544.9,431.9 544.9,407.5 531.9,415.3" fill="#4b8cd9" stroke="#0b1a3a" stroke-width="0.8" stroke-linejoin="round"/><polygon points="521.7,433.2 531.9,439.7 531.9,415.3 521.7,408.8" fill="url(#gBarF)" stroke="#0b1a3a" stroke-width="0.8" stroke-linejoin="round"/><line x1="531.1" y1="438.7" x2="531.1" y2="416.1" stroke="#86b8f0" stroke-width="0.9"/><polygon points="521.7,408.8 531.9,415.3 544.9,407.5 534.7,401" fill="#6fabea" stroke="#0b1a3a" stroke-width="0.8" stroke-linejoin="round"/><polygon points="542,446.3 555.1,438.4 555.1,419 542,426.9" fill="#4b8cd9" stroke="#0b1a3a" stroke-width="0.8" stroke-linejoin="round"/><polygon points="531.9,439.7 542,446.3 542,426.9 531.9,420.3" fill="url(#gBarF)" stroke="#0b1a3a" stroke-width="0.8" stroke-linejoin="round"/><line x1="541.2" y1="445.3" x2="541.2" y2="427.7" stroke="#86b8f0" stroke-width="0.9"/><polygon points="531.9,420.3 542,426.9 555.1,419 544.9,412.5" fill="#6fabea" stroke="#0b1a3a" stroke-width="0.8" stroke-linejoin="round"/><polygon points="552.2,452.8 565.3,444.9 565.3,402.7 552.2,410.6" fill="#4b8cd9" stroke="#0b1a3a" stroke-width="0.8" stroke-linejoin="round"/><polygon points="542,446.3 552.2,452.8 552.2,410.6 542,404.1" fill="url(#gBarF)" stroke="#0b1a3a" stroke-width="0.8" stroke-linejoin="round"/><line x1="551.4" y1="451.8" x2="551.4" y2="411.4" stroke="#86b8f0" stroke-width="0.9"/><polygon points="542,404.1 552.2,410.6 565.3,402.7 555.2,396.2" fill="#6fabea" stroke="#0b1a3a" stroke-width="0.8" stroke-linejoin="round"/><polygon points="562.4,459.4 575.6,451.4 575.6,418.3 562.4,426.3" fill="#4b8cd9" stroke="#0b1a3a" stroke-width="0.8" stroke-linejoin="round"/><polygon points="552.2,452.8 562.4,459.4 562.4,426.3 552.2,419.7" fill="url(#gBarF)" stroke="#0b1a3a" stroke-width="0.8" stroke-linejoin="round"/><line x1="561.6" y1="458.4" x2="561.6" y2="427.1" stroke="#86b8f0" stroke-width="0.9"/><polygon points="552.2,419.7 562.4,426.3 575.6,418.3 565.4,411.7" fill="#6fabea" stroke="#0b1a3a" stroke-width="0.8" stroke-linejoin="round"/></g>
<rect x="230.5" y="5.5" width="279" height="177" fill="#0b1424"/>
<rect x="226" y="1" width="279" height="177" fill="#fff" stroke="#0a0a0a" stroke-width="1.6"/>
<g stroke="#111" stroke-width="1.2" stroke-linecap="round" stroke-linejoin="round"><line x1="257" y1="53" x2="497.5" y2="53" stroke="#111" stroke-width="1.2"/><line x1="257.5" y1="53" x2="257.5" y2="60"/><line x1="262.3" y1="53" x2="262.3" y2="74.8"/><line x1="267.1" y1="53" x2="267.1" y2="69.3"/><line x1="271.9" y1="53" x2="271.9" y2="65.9"/><line x1="276.7" y1="53" x2="276.7" y2="63.6"/><line x1="281.5" y1="53" x2="281.5" y2="63"/><line x1="286.3" y1="53" x2="286.3" y2="63"/><line x1="291.1" y1="53" x2="291.1" y2="64.9"/><line x1="295.9" y1="53" x2="295.9" y2="67.5"/><line x1="300.7" y1="53" x2="300.7" y2="70.2"/><line x1="305.5" y1="53" x2="305.5" y2="71.4"/><line x1="310.3" y1="53" x2="310.3" y2="72.5"/><line x1="315.1" y1="53" x2="315.1" y2="73.2"/><line x1="319.9" y1="53" x2="319.9" y2="73.8"/><line x1="324.7" y1="53" x2="324.7" y2="72.2"/><line x1="329.5" y1="53" x2="329.5" y2="71.6"/><line x1="334.3" y1="53" x2="334.3" y2="72.4"/><line x1="339.1" y1="53" x2="339.1" y2="73.9"/><line x1="343.9" y1="53" x2="343.9" y2="75.9"/><line x1="348.7" y1="53" x2="348.7" y2="79.1"/><line x1="353.5" y1="53" x2="353.5" y2="82.1"/><line x1="358.3" y1="53" x2="358.3" y2="85"/><line x1="363.1" y1="53" x2="363.1" y2="86.5"/><line x1="367.9" y1="53" x2="367.9" y2="87.2"/><line x1="372.7" y1="53" x2="372.7" y2="86.8"/><line x1="377.5" y1="53" x2="377.5" y2="85.6"/><line x1="382.3" y1="53" x2="382.3" y2="83.3"/><line x1="387.1" y1="53" x2="387.1" y2="79.7"/><line x1="391.9" y1="53" x2="391.9" y2="76.5"/><line x1="396.7" y1="53" x2="396.7" y2="74.1"/><line x1="401.5" y1="53" x2="401.5" y2="72.1"/><line x1="406.3" y1="53" x2="406.3" y2="70.9"/><line x1="411.1" y1="53" x2="411.1" y2="70.1"/><line x1="415.9" y1="53" x2="415.9" y2="70.8"/><line x1="420.7" y1="53" x2="420.7" y2="71.7"/><line x1="425.5" y1="53" x2="425.5" y2="74.1"/><line x1="430.3" y1="53" x2="430.3" y2="76.4"/><line x1="435.1" y1="53" x2="435.1" y2="78.2"/><line x1="439.9" y1="53" x2="439.9" y2="80"/><line x1="444.7" y1="53" x2="444.7" y2="83.5"/><line x1="449.5" y1="53" x2="449.5" y2="87.1"/><line x1="454.3" y1="53" x2="454.3" y2="92.4"/><line x1="459.1" y1="53" x2="459.1" y2="97.8"/><line x1="463.9" y1="53" x2="463.9" y2="99.4"/><line x1="468.7" y1="53" x2="468.7" y2="99.4"/><line x1="473.5" y1="53" x2="473.5" y2="97"/><line x1="478.3" y1="53" x2="478.3" y2="95.5"/><line x1="483.1" y1="53" x2="483.1" y2="94.3"/><line x1="487.9" y1="53" x2="487.9" y2="93.5"/><line x1="492.7" y1="53" x2="492.7" y2="93"/><line x1="497.5" y1="53" x2="497.5" y2="92.5"/><path d="M257.5,53 L235,76 L239,81.5 L246,72.5 L252.5,89 L258,80" fill="none"/><line x1="252.7" y1="57.9" x2="252.7" y2="88.7"/><line x1="247.9" y1="62.8" x2="247.9" y2="77.3"/><line x1="243.1" y1="67.7" x2="243.1" y2="76.2"/><line x1="238.3" y1="72.6" x2="238.3" y2="80.5"/><polyline points="257.5,60 259.5,69.6 261.5,73.8 263.5,73.8 265.5,71.3 267.5,68.8 269.5,67.5 271.5,66.1 273.5,64.8 275.5,63.7 277.5,63.5 279.5,63.2 281.5,63 283.5,62.7 285.5,62.7 287.5,63.5 289.5,64.3 291.5,65.1 293.5,66.1 295.5,67.3 297.5,68.5 299.5,69.7 301.5,70.4 303.5,70.9 305.5,71.4 307.5,71.9 309.5,72.4 311.5,72.7 313.5,73 315.5,73.2 317.5,73.5 319.5,73.7 321.5,73.3 323.5,72.6 325.5,72 327.5,71.3 329.5,71.6 331.5,71.9 333.5,72.3 335.5,72.7 337.5,73.3 339.5,74 341.5,74.7 343.5,75.7 345.5,77 347.5,78.3 349.5,79.7 351.5,80.9 353.5,82.1 355.5,83.3 357.5,84.5 359.5,85.7 361.5,86.2 363.5,86.5 365.5,86.8 367.5,87.1 369.5,87.4 371.5,87.1 373.5,86.6 375.5,86.1 377.5,85.6 379.5,85.1 381.5,83.9 383.5,82.4 385.5,80.9 387.5,79.4 389.5,77.9 391.5,76.8 393.5,75.8 395.5,74.8 397.5,73.8 399.5,72.8 401.5,72.1 403.5,71.6 405.5,71.1 407.5,70.6 409.5,70.1 411.5,70.2 413.5,70.5 415.5,70.7 417.5,71 419.5,71.2 421.5,72 423.5,73 425.5,74 427.5,75 429.5,76 431.5,76.9 433.5,77.6 435.5,78.3 437.5,79.1 439.5,79.8 441.5,81.1 443.5,82.6 445.5,84.1 447.5,85.6 449.5,87.1 451.5,89.2 453.5,91.5 455.5,93.7 457.5,96 459.5,98.2 461.5,99 463.5,99.4 465.5,99.7 467.5,100 469.5,99 471.5,98 473.5,97 475.5,96.2 477.5,95.7 479.5,95.2 481.5,94.7 483.5,94.2 485.5,93.7 487.5,93.5 489.5,93.3 491.5,93.1 493.5,92.9 495.5,92.7 497.5,92.5 499.5,92.5" fill="none"/><polyline points="257.5,64.5 259.5,71.7 261.5,74.8 263.5,75 265.5,73.7 267.5,72.3 269.5,71.7 271.5,70.7 273.5,69.3 275.5,68 277.5,67.4 279.5,67.1 281.5,67.2 283.5,67.6 285.5,68.1 287.5,69.1 289.5,69.6 291.5,69.7 293.5,69.9 295.5,70.3 297.5,71.1 299.5,72.3 301.5,73.3 303.5,74.2 305.5,74.8 307.5,75 309.5,75 311.5,74.6 313.5,74.4 315.5,74.6 317.5,75.1 319.5,75.9 321.5,76.1 323.5,75.9 325.5,75.6 327.5,75.8 329.5,76.7 331.5,77.5 333.5,78.5 335.5,79.9 337.5,81.7 339.5,83.4 341.5,84.9 343.5,86.2 345.5,87.5 347.5,88.5 349.5,89.6 351.5,91.1 353.5,92.8 355.5,94.9 357.5,97 359.5,98.9 361.5,99.9 363.5,98.7 365.5,96.9 367.5,95.2 369.5,93.7 371.5,92.2 373.5,91.3 375.5,90.4 377.5,89.2 379.5,87.9 381.5,86.2 383.5,84.2 385.5,82.4 387.5,80.9 389.5,79.8 391.5,79.3 393.5,78.8 395.5,78.1 397.5,77.4 399.5,76.3 401.5,75.5 403.5,74.9 405.5,74.7 407.5,75 409.5,75.4 411.5,76.3 413.5,77 415.5,77.1 417.5,77 419.5,76.7 421.5,77.1 423.5,77.9 425.5,78.9 427.5,80.1 429.5,81.3 431.5,82 433.5,82.3 435.5,82.4 437.5,82.5 439.5,82.8 441.5,83.9 443.5,85.5 445.5,87.3 447.5,89.1 449.5,90.7 451.5,92.3 453.5,93.8 455.5,95.2 457.5,96.8 459.5,98.8 461.5,100 463.5,101.1 465.5,102.2 467.5,102.9 469.5,102.3 471.5,101.2 473.5,100.1 475.5,99.2 477.5,99 479.5,98.6 481.5,98.3 483.5,98 485.5,97.2 487.5,96.2 489.5,94.9 491.5,93.9 493.5,93.1 495.5,92.6 497.5,92.6 499.5,92.8" fill="none"/><polyline points="257.5,68.7 259.5,74.5 261.5,77.3 263.5,77.8 265.5,76.9 267.5,75.6 269.5,74.7 271.5,73.6 273.5,72.6 275.5,72 277.5,72.1 279.5,72.5 281.5,73 283.5,73.2 285.5,73.3 287.5,73.4 289.5,73.2 291.5,73.1 293.5,73.4 295.5,74.2 297.5,75.2 299.5,76.3 301.5,76.9 303.5,77.1 305.5,76.9 307.5,76.6 309.5,76.4 311.5,76.4 313.5,76.8 315.5,77.5 317.5,78.3 319.5,78.8 321.5,78.6 323.5,77.8 325.5,77.6 327.5,79.1 329.5,81.6 331.5,83.9 333.5,86.2 335.5,88.7 337.5,90.8 339.5,92.4 341.5,93.8 343.5,95.2 345.5,96.8 347.5,98.5 349.5,100.5 351.5,102.8 353.5,105 355.5,107.1 357.5,109.1 359.5,110.8 361.5,111.9 363.5,109.8 365.5,106.9 367.5,104.1 369.5,101.6 371.5,98.7 373.5,96.6 375.5,94.2 377.5,91.5 379.5,89.1 381.5,87.4 383.5,85.9 385.5,84.8 387.5,83.9 389.5,83.2 391.5,82.5 393.5,81.4 395.5,80.2 397.5,79.5 399.5,78.9 401.5,78.8 403.5,79.2 405.5,79.9 407.5,80.7 409.5,81.4 411.5,82 413.5,82.2 415.5,82 417.5,81.9 419.5,82.2 421.5,83.2 423.5,84.3 425.5,85.1 427.5,85.7 429.5,86 431.5,85.8 433.5,85.4 435.5,85.3 437.5,85.9 439.5,86.8 441.5,88.2 443.5,89.8 445.5,91.1 447.5,92 449.5,92.8 451.5,93.8 453.5,95.1 455.5,96.7 457.5,98.7 459.5,100.9 461.5,102.4 463.5,103.5 465.5,104.1 467.5,104.5 469.5,103.9 471.5,103.4 473.5,103.2 475.5,103.4 477.5,104 479.5,103.4 481.5,102.5 483.5,101.3 485.5,99.4 487.5,97.4 489.5,95.6 491.5,94.7 493.5,94.3 495.5,94.1 497.5,94 499.5,93.6" fill="none"/><polyline points="257.5,74.1 259.5,78.2 261.5,79.9 263.5,79.9 265.5,79 267.5,77.8 269.5,77.2 271.5,76.8 273.5,76.8 275.5,77.1 277.5,77.7 279.5,78.1 281.5,78.1 283.5,77.8 285.5,77.3 287.5,77.3 289.5,77.2 291.5,77.4 293.5,78.1 295.5,78.9 297.5,79.4 299.5,79.7 301.5,79.5 303.5,79 305.5,78.6 307.5,78.5 309.5,78.8 311.5,79.3 313.5,79.9 315.5,80.5 317.5,80.7 319.5,80.6 321.5,80 323.5,79.3 325.5,79.9 327.5,83.4 329.5,87.6 331.5,91.1 333.5,94 335.5,96.7 337.5,98.7 339.5,100.4 341.5,102.2 343.5,104.5 345.5,107.1 347.5,109.6 349.5,112.2 351.5,114.5 353.5,116.5 355.5,118.2 357.5,120.2 359.5,122.3 361.5,124.4 363.5,121.8 365.5,118 367.5,113.9 369.5,109.5 371.5,104.5 373.5,100.7 375.5,97 377.5,93.4 379.5,90.7 381.5,89.6 383.5,88.8 385.5,88 387.5,87 389.5,85.8 391.5,84.5 393.5,83 395.5,81.9 397.5,82 399.5,82.4 401.5,83.2 403.5,84.2 405.5,85 407.5,85.7 409.5,86.2 411.5,86.6 413.5,87 415.5,87.2 417.5,87.9 419.5,88.8 421.5,89.9 423.5,90.6 425.5,90.6 427.5,90.2 429.5,89.7 431.5,89.2 433.5,89 435.5,89.3 437.5,90.4 439.5,91.4 441.5,92.5 443.5,93.3 445.5,93.7 447.5,94 449.5,94.7 451.5,95.8 453.5,97.5 455.5,99.4 457.5,101.3 459.5,103 461.5,104 463.5,104.6 465.5,105.1 467.5,105.7 469.5,106.1 471.5,106.6 473.5,107.4 475.5,108.1 477.5,108.8 479.5,107.3 481.5,105.5 483.5,103.6 485.5,101.2 487.5,99 489.5,97.3 491.5,96.6 493.5,96.2 495.5,95.5 497.5,94.5 499.5,93.3" fill="none"/><polyline points="257.5,79.8 259.5,81.4 261.5,81.5 263.5,81 265.5,80.4 267.5,80.2 269.5,80.5 271.5,81.2 273.5,81.9 275.5,82.5 277.5,82.7 279.5,82.5 281.5,82.1 283.5,81.7 285.5,81.6 287.5,82 289.5,82.3 291.5,82.7 293.5,83 295.5,83 297.5,82.6 299.5,82 301.5,81.4 303.5,81.1 305.5,81.2 307.5,81.6 309.5,82.1 311.5,82.4 313.5,82.5 315.5,82.4 317.5,82.1 319.5,81.8 321.5,81.6 323.5,81.8 325.5,83.4 327.5,88.6 329.5,93.9 331.5,97.7 333.5,100.7 335.5,103.6 337.5,106.1 339.5,108.7 341.5,111.6 343.5,114.9 345.5,118.3 347.5,120.9 349.5,123.2 351.5,125.1 353.5,126.8 355.5,128.8 357.5,131.5 359.5,134.7 361.5,138 363.5,134.8 365.5,129.2 367.5,122.9 369.5,116.2 371.5,109.2 373.5,104.4 375.5,100.1 377.5,96.3 379.5,93.4 381.5,92.7 383.5,91.8 385.5,90.5 387.5,88.9 389.5,87.4 391.5,86 393.5,84.9 395.5,84.5 397.5,85.6 399.5,86.7 401.5,87.8 403.5,88.5 405.5,89 407.5,89.7 409.5,90.4 411.5,91.6 413.5,92.7 415.5,93.6 417.5,94.6 419.5,95.4 421.5,96 423.5,95.8 425.5,95 427.5,94.2 429.5,93.7 431.5,93.6 433.5,93.8 435.5,94.2 437.5,95 439.5,95.4 441.5,95.6 443.5,95.7 445.5,95.9 447.5,96.3 449.5,97.5 451.5,99 453.5,100.6 455.5,102.1 457.5,103.1 459.5,103.9 461.5,104.5 463.5,105.3 465.5,106.4 467.5,107.9 469.5,109.4 471.5,110.7 473.5,111.6 475.5,112.2 477.5,112.5 479.5,110.3 481.5,108.1 483.5,106.3 485.5,104 487.5,101.8 489.5,99.8 491.5,98.5 493.5,97.3 495.5,95.8 497.5,94.1 499.5,92.5" fill="none"/><polyline points="257.5,83.9 259.5,83.3 261.5,82.8 263.5,82.8 265.5,83.4 267.5,84 269.5,84.6 271.5,85.2 273.5,85.8 275.5,86.3 277.5,86.5 279.5,86.7 281.5,86.9 283.5,87.1 285.5,87.3 287.5,87.5 289.5,87.1 291.5,86.7 293.5,86.3 295.5,85.9 297.5,85.5 299.5,85.1 301.5,84.9 303.5,84.7 305.5,84.5 307.5,84.3 309.5,84.1 311.5,83.9 313.5,83.9 315.5,84.1 317.5,84.3 319.5,84.5 321.5,84.7 323.5,84.9 325.5,86.5 327.5,92.5 329.5,98.5 331.5,103.1 333.5,107.3 335.5,111.5 337.5,115 339.5,118.3 341.5,121.7 343.5,125 345.5,128.1 347.5,130.6 349.5,133.1 351.5,135.6 353.5,138.1 355.5,140.9 357.5,144.3 359.5,147.7 361.5,151.1 363.5,146.4 365.5,138.9 367.5,130.9 369.5,122.9 371.5,114.8 373.5,109.6 375.5,104.6 377.5,99.7 379.5,95.7 381.5,94.4 383.5,93.2 385.5,91.9 387.5,90.8 389.5,89.9 391.5,89 393.5,88.2 395.5,87.8 397.5,88.8 399.5,89.8 401.5,90.8 403.5,91.8 405.5,92.9 407.5,94.6 409.5,96.3 411.5,98 413.5,99 415.5,99.5 417.5,100 419.5,100.5 421.5,101 423.5,101 425.5,100.4 427.5,99.8 429.5,99.2 431.5,98.6 433.5,98 435.5,97.6 437.5,98 439.5,98.4 441.5,98.8 443.5,99.2 445.5,99.6 447.5,100 449.5,100.8 451.5,101.6 453.5,102.4 455.5,103.2 457.5,104 459.5,104.8 461.5,106.1 463.5,107.6 465.5,109.1 467.5,110.6 469.5,112.1 471.5,113.3 473.5,114.3 475.5,115.3 477.5,116.3 479.5,114.3 481.5,112.3 483.5,110.3 485.5,107.3 487.5,104 489.5,100.8 491.5,99 493.5,97.5 495.5,96.2 497.5,94.8 499.5,93.3" fill="none"/><line x1="259" y1="67.2" x2="258.5" y2="83.6"/><line x1="264.4" y1="72.6" x2="263.2" y2="82.7"/><line x1="269.8" y1="67.3" x2="269.4" y2="84.6"/><line x1="275.2" y1="63.8" x2="275.4" y2="86.3"/><line x1="280.6" y1="63.1" x2="281" y2="86.9"/><line x1="286" y1="62.9" x2="286.4" y2="87.4"/><line x1="291.4" y1="65.1" x2="291.5" y2="86.7"/><line x1="296.8" y1="68.1" x2="296.4" y2="85.7"/><line x1="302.2" y1="70.5" x2="301.4" y2="84.9"/><line x1="307.6" y1="71.9" x2="306.6" y2="84.4"/><line x1="313" y1="72.9" x2="311.8" y2="83.9"/><line x1="318.4" y1="73.6" x2="317.2" y2="84.3"/><line x1="323.8" y1="72.5" x2="322.8" y2="84.8"/><line x1="329.2" y1="71.6" x2="329.8" y2="99.5"/><line x1="333.6" y1="72.3" x2="335.3" y2="111.1"/><line x1="338" y1="73.5" x2="340.6" y2="120.1"/><line x1="342.4" y1="75" x2="345.7" y2="128.4"/><line x1="346.8" y1="77.9" x2="350.5" y2="134.4"/><line x1="351.2" y1="80.7" x2="355.2" y2="140.4"/><line x1="355.6" y1="83.4" x2="360" y2="148.6"/><line x1="360" y1="86" x2="365" y2="140.7"/><line x1="364.4" y1="86.7" x2="368.7" y2="126.3"/><line x1="368.8" y1="87.3" x2="370.9" y2="117.2"/><line x1="373.2" y1="86.7" x2="373.5" y2="109.5"/><line x1="378.6" y1="85.4" x2="377.5" y2="99.7"/><line x1="384" y1="82" x2="382.8" y2="93.6"/><line x1="389.4" y1="78" x2="388.3" y2="90.4"/><line x1="394.8" y1="75.1" x2="393.8" y2="88"/><line x1="400.2" y1="72.5" x2="399.8" y2="89.9"/><line x1="405.6" y1="71.1" x2="405.7" y2="93.1"/><line x1="411" y1="70.1" x2="411.8" y2="98.2"/><line x1="415.4" y1="70.7" x2="416.4" y2="99.8"/><line x1="419.8" y1="71.3" x2="420.8" y2="100.9"/><line x1="424.2" y1="73.4" x2="425" y2="100.5"/><line x1="428.6" y1="75.6" x2="429" y2="99.3"/><line x1="434" y1="77.8" x2="433.9" y2="97.8"/><line x1="439.4" y1="79.8" x2="439.1" y2="98.3"/><line x1="444.8" y1="83.6" x2="444.2" y2="99.3"/><line x1="450.2" y1="87.7" x2="449.3" y2="100.7"/><line x1="455.6" y1="93.8" x2="454.2" y2="102.7"/><line x1="461" y1="99" x2="459.3" y2="104.7"/><line x1="466.4" y1="99.8" x2="465.1" y2="108.8"/><line x1="471.8" y1="97.9" x2="471.2" y2="113.1"/><line x1="477.2" y1="95.8" x2="477.1" y2="116.1"/><line x1="482.6" y1="94.4" x2="482.1" y2="111.7"/><line x1="488" y1="93.5" x2="486.7" y2="105.4"/><line x1="493.4" y1="92.9" x2="491.5" y2="99"/><line x1="498.8" y1="92.5" x2="496.5" y2="95.5"/></g>
<line x1="486.5" y1="211.4" x2="768" y2="393.5" stroke="#0c2414" stroke-width="0.85" stroke-dasharray="9,3,3,3" opacity="0.8"/>
<line x1="460" y1="220.8" x2="734" y2="420.5" stroke="#0c2414" stroke-width="0.85" stroke-dasharray="9,3,3,3" opacity="0.8"/>
<polygon points="506,224 512,220.5 716,347 709,351.5" fill="#3d5f28" opacity="0.75"/>
<g id="barsR"><polygon points="519.8,228.5 527.4,224.1 527.4,198.7 519.8,203.1" fill="#3c88e8"/><polygon points="512.6,224 519.8,228.5 519.8,203.1 512.6,198.6" fill="#2a66cc"/><polygon points="516.5,226.1 519.8,228.1 519.8,203.6 516.5,201.6" fill="#2f74dc"/><polygon points="512.6,198.6 519.8,203.1 527.4,198.7 520.2,194.2" fill="#62a8f2"/><polygon points="527,232.9 534.6,228.5 534.6,206.3 527,210.7" fill="#3c88e8"/><polygon points="519.8,228.5 527,232.9 527,210.7 519.8,206.3" fill="#2a66cc"/><polygon points="523.7,230.5 527,232.5 527,211.2 523.7,209.2" fill="#2f74dc"/><polygon points="519.8,206.3 527,210.7 534.6,206.3 527.4,201.8" fill="#62a8f2"/><polygon points="534.1,237.4 541.8,232.9 541.8,214.4 534.1,218.9" fill="#3c88e8"/><polygon points="527,232.9 534.1,237.4 534.1,218.9 527,214.4" fill="#2a66cc"/><polygon points="530.9,235 534.1,237 534.1,219.4 530.9,217.3" fill="#2f74dc"/><polygon points="527,214.4 534.1,218.9 541.8,214.4 534.7,209.9" fill="#62a8f2"/><polygon points="541.3,241.9 549.1,237.4 549.1,225.3 541.3,229.9" fill="#3c88e8"/><polygon points="534.1,237.4 541.3,241.9 541.3,229.9 534.1,225.4" fill="#2a66cc"/><polygon points="538.1,239.5 541.3,241.5 541.3,230.4 538.1,228.3" fill="#2f74dc"/><polygon points="534.1,225.4 541.3,229.9 549.1,225.3 541.9,220.9" fill="#62a8f2"/><polygon points="548.5,246.3 556.3,241.8 556.3,234.8 548.5,239.3" fill="#3c88e8"/><polygon points="541.3,241.9 548.5,246.3 548.5,239.3 541.3,234.9" fill="#2a66cc"/><polygon points="545.3,243.9 548.5,245.9 548.5,239.8 545.3,237.8" fill="#2f74dc"/><polygon points="541.3,234.9 548.5,239.3 556.3,234.8 549.1,230.3" fill="#62a8f2"/><polygon points="555.7,250.8 563.5,246.2 563.5,243.2 555.7,247.8" fill="#3c88e8"/><polygon points="548.5,246.3 555.7,250.8 555.7,247.8 548.5,243.3" fill="#2a66cc"/><polygon points="552.4,248.4 555.7,250.4 555.7,248.3 552.4,246.2" fill="#2f74dc"/><polygon points="548.5,243.3 555.7,247.8 563.5,243.2 556.4,238.7" fill="#62a8f2"/><polygon points="562.9,255.3 570.8,250.6 570.8,238.2 562.9,242.8" fill="#3c88e8"/><polygon points="555.7,250.8 562.9,255.3 562.9,242.8 555.7,238.3" fill="#2a66cc"/><polygon points="559.6,252.9 562.9,254.9 562.9,243.3 559.6,241.3" fill="#2f74dc"/><polygon points="555.7,238.3 562.9,242.8 570.8,238.2 563.6,233.7" fill="#62a8f2"/><polygon points="570,259.7 578,255.1 578,242.4 570,247" fill="#3c88e8"/><polygon points="562.9,255.3 570,259.7 570,247 562.9,242.6" fill="#2a66cc"/><polygon points="566.8,257.3 570,259.3 570,247.5 566.8,245.5" fill="#2f74dc"/><polygon points="562.9,242.6 570,247 578,242.4 570.8,237.9" fill="#62a8f2"/><polygon points="577.2,264.2 585.2,259.5 585.2,232.6 577.2,237.3" fill="#3c88e8"/><polygon points="570,259.7 577.2,264.2 577.2,237.3 570,232.8" fill="#2a66cc"/><polygon points="574,261.8 577.2,263.8 577.2,237.8 574,235.8" fill="#2f74dc"/><polygon points="570,232.8 577.2,237.3 585.2,232.6 578.1,228.1" fill="#62a8f2"/><polygon points="584.4,268.7 592.5,263.9 592.5,238.5 584.4,243.3" fill="#3c88e8"/><polygon points="577.2,264.2 584.4,268.7 584.4,243.3 577.2,238.8" fill="#2a66cc"/><polygon points="581.2,266.2 584.4,268.3 584.4,243.8 581.2,241.8" fill="#2f74dc"/><polygon points="577.2,238.8 584.4,243.3 592.5,238.5 585.3,234.1" fill="#62a8f2"/><polygon points="591.6,273.1 599.7,268.4 599.7,246.3 591.6,251.1" fill="#3c88e8"/><polygon points="584.4,268.7 591.6,273.1 591.6,251.1 584.4,246.6" fill="#2a66cc"/><polygon points="588.3,270.7 591.6,272.7 591.6,251.6 588.3,249.6" fill="#2f74dc"/><polygon points="584.4,246.6 591.6,251.1 599.7,246.3 592.5,241.8" fill="#62a8f2"/><polygon points="598.8,277.6 606.9,272.8 606.9,259 598.8,263.8" fill="#3c88e8"/><polygon points="591.6,273.1 598.8,277.6 598.8,263.8 591.6,259.3" fill="#2a66cc"/><polygon points="595.5,275.2 598.8,277.2 598.8,264.3 595.5,262.2" fill="#2f74dc"/><polygon points="591.6,259.3 598.8,263.8 606.9,259 599.8,254.5" fill="#62a8f2"/><polygon points="605.9,282.1 614.2,277.2 614.2,262.4 605.9,267.2" fill="#3c88e8"/><polygon points="598.8,277.6 605.9,282.1 605.9,267.2 598.8,262.8" fill="#2a66cc"/><polygon points="602.7,279.6 605.9,281.7 605.9,267.7 602.7,265.7" fill="#2f74dc"/><polygon points="598.8,262.8 605.9,267.2 614.2,262.4 607,257.9" fill="#62a8f2"/><polygon points="613.1,286.5 621.4,281.6 621.4,273.1 613.1,278" fill="#3c88e8"/><polygon points="605.9,282.1 613.1,286.5 613.1,278 605.9,273.5" fill="#2a66cc"/><polygon points="609.9,284.1 613.1,286.1 613.1,278.5 609.9,276.5" fill="#2f74dc"/><polygon points="605.9,273.5 613.1,278 621.4,273.1 614.2,268.7" fill="#62a8f2"/><polygon points="620.3,291 628.6,286.1 628.6,280.8 620.3,285.7" fill="#3c88e8"/><polygon points="613.1,286.5 620.3,291 620.3,285.7 613.1,281.3" fill="#2a66cc"/><polygon points="617.1,288.6 620.3,290.6 620.3,286.2 617.1,284.2" fill="#2f74dc"/><polygon points="613.1,281.3 620.3,285.7 628.6,280.8 621.4,276.4" fill="#62a8f2"/><polygon points="627.5,295.5 635.9,290.5 635.9,277 627.5,282" fill="#3c88e8"/><polygon points="620.3,291 627.5,295.5 627.5,282 620.3,277.5" fill="#2a66cc"/><polygon points="624.2,293 627.5,295.1 627.5,282.5 624.2,280.5" fill="#2f74dc"/><polygon points="620.3,277.5 627.5,282 635.9,277 628.7,272.6" fill="#62a8f2"/><polygon points="634.7,299.9 643.1,294.9 643.1,274.2 634.7,279.2" fill="#3c88e8"/><polygon points="627.5,295.5 634.7,299.9 634.7,279.2 627.5,274.7" fill="#2a66cc"/><polygon points="631.4,297.5 634.7,299.5 634.7,279.7 631.4,277.7" fill="#2f74dc"/><polygon points="627.5,274.7 634.7,279.2 643.1,274.2 635.9,269.7" fill="#62a8f2"/><polygon points="641.8,304.4 650.3,299.4 650.3,270.6 641.8,275.6" fill="#3c88e8"/><polygon points="634.7,299.9 641.8,304.4 641.8,275.6 634.7,271.1" fill="#2a66cc"/><polygon points="638.6,302 641.8,304 641.8,276.1 638.6,274.1" fill="#2f74dc"/><polygon points="634.7,271.1 641.8,275.6 650.3,270.6 643.1,266.1" fill="#62a8f2"/><polygon points="649,308.9 657.6,303.8 657.6,277.8 649,282.9" fill="#3c88e8"/><polygon points="641.8,304.4 649,308.9 649,282.9 641.8,278.4" fill="#2a66cc"/><polygon points="645.8,306.4 649,308.5 649,283.4 645.8,281.4" fill="#2f74dc"/><polygon points="641.8,278.4 649,282.9 657.6,277.8 650.4,273.3" fill="#62a8f2"/><polygon points="656.2,313.3 664.8,308.2 664.8,287.7 656.2,292.8" fill="#3c88e8"/><polygon points="649,308.9 656.2,313.3 656.2,292.8 649,288.3" fill="#2a66cc"/><polygon points="653,310.9 656.2,312.9 656.2,293.3 653,291.3" fill="#2f74dc"/><polygon points="649,288.3 656.2,292.8 664.8,287.7 657.6,283.2" fill="#62a8f2"/><polygon points="663.4,317.8 672,312.6 672,286.6 663.4,291.7" fill="#3c88e8"/><polygon points="656.2,313.3 663.4,317.8 663.4,291.7 656.2,287.3" fill="#2a66cc"/><polygon points="660.1,315.4 663.4,317.4 663.4,292.2 660.1,290.2" fill="#2f74dc"/><polygon points="656.2,287.3 663.4,291.7 672,286.6 664.8,282.1" fill="#62a8f2"/><polygon points="670.6,322.3 679.2,317.1 679.2,279.8 670.6,285" fill="#3c88e8"/><polygon points="663.4,317.8 670.6,322.3 670.6,285 663.4,280.5" fill="#2a66cc"/><polygon points="667.3,319.8 670.6,321.9 670.6,285.5 667.3,283.5" fill="#2f74dc"/><polygon points="663.4,280.5 670.6,285 679.2,279.8 672.1,275.4" fill="#62a8f2"/><polygon points="677.7,326.7 686.5,321.5 686.5,298.2 677.7,303.5" fill="#3c88e8"/><polygon points="670.6,322.3 677.7,326.7 677.7,303.5 670.6,299" fill="#2a66cc"/><polygon points="674.5,324.3 677.7,326.3 677.7,304 674.5,302" fill="#2f74dc"/><polygon points="670.6,299 677.7,303.5 686.5,298.2 679.3,293.8" fill="#62a8f2"/><polygon points="684.9,331.2 693.7,325.9 693.7,303.1 684.9,308.4" fill="#3c88e8"/><polygon points="677.7,326.7 684.9,331.2 684.9,308.4 677.7,303.9" fill="#2a66cc"/><polygon points="681.7,328.8 684.9,330.8 684.9,308.9 681.7,306.9" fill="#2f74dc"/><polygon points="677.7,303.9 684.9,308.4 693.7,303.1 686.5,298.7" fill="#62a8f2"/><polygon points="692.1,335.6 700.9,330.4 700.9,311.8 692.1,317.1" fill="#3c88e8"/><polygon points="684.9,331.2 692.1,335.6 692.1,317.1 684.9,312.6" fill="#2a66cc"/><polygon points="688.9,333.2 692.1,335.2 692.1,317.6 688.9,315.6" fill="#2f74dc"/><polygon points="684.9,312.6 692.1,317.1 700.9,311.8 693.8,307.4" fill="#62a8f2"/><polygon points="699.3,340.1 708.2,334.8 708.2,320 699.3,325.4" fill="#3c88e8"/><polygon points="692.1,335.6 699.3,340.1 699.3,325.4 692.1,320.9" fill="#2a66cc"/><polygon points="696,337.7 699.3,339.7 699.3,325.9 696,323.9" fill="#2f74dc"/><polygon points="692.1,320.9 699.3,325.4 708.2,320 701,315.6" fill="#62a8f2"/><polygon points="706.5,344.6 715.4,339.2 715.4,307.1 706.5,312.5" fill="#3c88e8"/><polygon points="699.3,340.1 706.5,344.6 706.5,312.5 699.3,308" fill="#2a66cc"/><polygon points="703.2,342.2 706.5,344.2 706.5,313 703.2,311" fill="#2f74dc"/><polygon points="699.3,308 706.5,312.5 715.4,307.1 708.2,302.7" fill="#62a8f2"/><polygon points="713.6,349 722.6,343.6 722.6,318.5 713.6,323.9" fill="#3c88e8"/><polygon points="706.5,344.6 713.6,349 713.6,323.9 706.5,319.4" fill="#2a66cc"/><polygon points="710.4,346.6 713.6,348.6 713.6,324.4 710.4,322.4" fill="#2f74dc"/><polygon points="706.5,319.4 713.6,323.9 722.6,318.5 715.5,314" fill="#62a8f2"/></g>
<path d="M709,191 L690,384 A19.5,9.5 0 0 0 729,382.5 Z" fill="#fdf3c2" opacity="0.95"/>
<polygon points="706.5,344.6 715.5,339.2 715.5,307.1 706.5,312.5" fill="#bcdcea"/><polygon points="699.3,340.1 706.5,344.6 706.5,312.5 699.3,308" fill="#a6cde3"/><polygon points="703.2,342.2 706.5,344.2 706.5,313 703.2,311" fill="#b2d6e8"/><polygon points="699.3,308 706.5,312.5 715.5,307.1 708.3,302.6" fill="#cde6ef"/><polygon points="713.6,349 722.6,343.6 722.6,318.5 713.6,323.9" fill="#bcdcea"/><polygon points="706.5,344.6 713.6,349 713.6,323.9 706.5,319.4" fill="#a6cde3"/><polygon points="710.4,346.6 713.6,348.6 713.6,324.4 710.4,322.4" fill="#b2d6e8"/><polygon points="706.5,319.4 713.6,323.9 722.6,318.5 715.5,314" fill="#cde6ef"/>
<path d="M55.5,157 L80.5,178 L68.5,182 C70,195 72,206 75,217 L59.5,230.5 C56,217 53,204 51.5,190.5 L36,196 Z" fill="#050505" transform="translate(-3.2,3.2)"/><path d="M55.5,157 L80.5,178 L68.5,182 C70,195 72,206 75,217 L59.5,230.5 C56,217 53,204 51.5,190.5 L36,196 Z" fill="url(#gArrUp)"/>
<path d="M187.5,227 C200,225.3 215,224.6 228,225.3 C236,228 241,233 245,238 L262.5,232.5 L270,265 L224,264 L236.5,254 C222,245 205,235 187.5,227 Z" fill="#050505" transform="translate(-2.5,3.5)"/><path d="M187.5,227 C200,225.3 215,224.6 228,225.3 C236,228 241,233 245,238 L262.5,232.5 L270,265 L224,264 L236.5,254 C222,245 205,235 187.5,227 Z" fill="url(#gArrRef)"/>
<path d="M404,209.5 C415,217 432,224 452,226 C470,227.5 484,226 495,224.5 C508,227 520,234 528,243.5 C515,245.5 500,246.5 490,246 C470,245 445,242 427,236 C418,233 410,229 405.5,224 Z" fill="#050505" transform="translate(-2.5,3.5)"/>
<path d="M371,187.5 L411,200 L403.5,208.5 C406,220 409,232 409,245 C409,262 404,275 399,285.5 L359,274 C374,266 385,255 389,242 C392,232 389,224 386,219 L370,229 Z" fill="#050505" transform="translate(-3.5,3)"/>
<path d="M404,209.5 C415,217 432,224 452,226 C470,227.5 484,226 495,224.5 C508,227 520,234 528,243.5 C515,245.5 500,246.5 490,246 C470,245 445,242 427,236 C418,233 410,229 405.5,224 Z" fill="url(#gArrBig2)"/>
<path d="M371,187.5 L411,200 L403.5,208.5 C406,220 409,232 409,245 C409,262 404,275 399,285.5 L359,274 C374,266 385,255 389,242 C392,232 389,224 386,219 L370,229 Z" fill="url(#gArrBig)"/>
<path d="M369.5,149 L384,140 L383.5,146 C393,147.5 405,145.5 414,141 C413.5,146 412,150 410,152.5 C402,156 392,157 383,155.5 L382,161.5 Z" fill="#050505" transform="translate(0.5,2.5)"/><path d="M369.5,149 L384,140 L383.5,146 C393,147.5 405,145.5 414,141 C413.5,146 412,150 410,152.5 C402,156 392,157 383,155.5 L382,161.5 Z" fill="url(#gArrPos)"/>
<path d="M242.5,372.5 C244,384 240,394 234.5,402.5 L239.5,406 L224,412.5 L219.5,397 L225.5,399.5 C231,391 234,382 234,373.5 Z" fill="#050505" transform="translate(2.6,1.2)"/><path d="M242.5,372.5 C244,384 240,394 234.5,402.5 L239.5,406 L224,412.5 L219.5,397 L225.5,399.5 C231,391 234,382 234,373.5 Z" fill="url(#gArrMap)"/>
<path d="M606,188.5 C603,198 596,206 586,211 L590,217.5 L567,217 L574,202.5 L578,208 C586,203 592,196 595,188.5 Z" fill="#050505" transform="translate(2.4,1.8)"/><path d="M606,188.5 C603,198 596,206 586,211 L590,217.5 L567,217 L574,202.5 L578,208 C586,203 592,196 595,188.5 Z" fill="url(#gArrMeas)"/>
<path d="M746.5,106.3 C749.5,116 747,127 741,136 L746.5,138.5 L730,146.5 L727,131.5 L733,134 C737.5,126 739,116 736.7,106.3 Z" fill="#050505" transform="translate(2.4,1)"/><path d="M746.5,106.3 C749.5,116 747,127 741,136 L746.5,138.5 L730,146.5 L727,131.5 L733,134 C737.5,126 739,116 736.7,106.3 Z" fill="url(#gArrRad)"/>
<ellipse cx="78.5" cy="266.5" rx="5.6" ry="2.6" fill="#c8814a" stroke="#2a1408" stroke-width="0.8"/>
<path d="M73,259 V266.5 A5.6,2.6 0 0 0 84.2,266.5 V257 Z" fill="#b86b38" stroke="#2a1408" stroke-width="0.8"/>
<polygon points="86.5,227.5 97,247 96.5,250 61,264 49.5,247 49.5,244" fill="#7a2a10" stroke="#1a0a04" stroke-width="1" stroke-linejoin="round"/>
<polygon points="49.5,246 86,232.5 96.5,249 61,264" fill="#a8451c" stroke="#1a0a04" stroke-width="0.9" stroke-linejoin="round"/>
<polygon points="52,239.5 86.5,227 88.5,232 49.5,246" fill="#f3c288" stroke="#1a0a04" stroke-width="0.9" stroke-linejoin="round"/>
<polygon points="80,238 86.5,235.8 94.5,248.8 88,251.5" fill="#8c3414"/>
<line x1="56" y1="246.5" x2="79" y2="238.5" stroke="#f0c8a0" stroke-width="0.9"/>
<defs><linearGradient id="gBody2" gradientUnits="userSpaceOnUse" x1="648" y1="107" x2="636" y2="133"><stop offset="0" stop-color="#b0c6e2"/><stop offset="0.22" stop-color="#e8f0f8"/><stop offset="0.5" stop-color="#c4d6ec"/><stop offset="0.8" stop-color="#7ea3d4"/><stop offset="1" stop-color="#3f6eb4"/></linearGradient><linearGradient id="gWingN" gradientUnits="userSpaceOnUse" x1="606" y1="146" x2="638" y2="128"><stop offset="0" stop-color="#6d97cc"/><stop offset="0.5" stop-color="#c4d8ef"/><stop offset="1" stop-color="#7fa6d8"/></linearGradient><linearGradient id="gWingF" gradientUnits="userSpaceOnUse" x1="668" y1="105" x2="648" y2="116"><stop offset="0" stop-color="#c9dbf0"/><stop offset="1" stop-color="#4f7fc0"/></linearGradient><linearGradient id="gFinL" gradientUnits="userSpaceOnUse" x1="547" y1="94" x2="568" y2="92"><stop offset="0" stop-color="#6f99cf"/><stop offset="1" stop-color="#c8daf0"/></linearGradient></defs>
<polygon points="561.3,63.5 567.5,66 575.5,88 565,84" fill="#2b5698" stroke="#14284c" stroke-width="0.9" stroke-linejoin="round"/>
<polygon points="563.8,95 571.5,97 571.3,106.5 565,108.8" fill="#25508f" stroke="#14284c" stroke-width="0.9" stroke-linejoin="round"/>
<path d="M585,108 C588,116 596,123.5 606,126 C611,127 615,126.5 616,125 L600,113 Z" fill="#1f4a92" stroke="#14284c" stroke-width="0.9" stroke-linejoin="round"/>
<path d="M646,113 L657,105.5 C661,103.5 667,103.5 668.5,105.5 C669.5,107.5 668,109.5 666,111 L657,119.5 Z" fill="url(#gWingF)" stroke="#14284c" stroke-width="0.9" stroke-linejoin="round"/>
<polygon points="576.3,82.5 582.5,79.8 588.8,82.3 585,86" fill="#b4cbe8" stroke="#14284c" stroke-width="0.9" stroke-linejoin="round"/>
<path d="M559.5,84 C559.5,82 561.5,81 563.5,81.5 L590,87.5 L640,108.8 L690,131.3 L725,147.5 C735,152.5 741.5,160 737.8,168.5 C733.5,177.5 724,180 715,175.2 L690,161.5 L652.5,142.7 L615,125 L585,108.8 L563.8,90.5 C561,89.5 559.5,87 559.5,84 Z" fill="url(#gBody2)" stroke="#14284c" stroke-width="1.1" stroke-linejoin="round"/>
<path d="M581.3,85.5 C585.5,90 588,98 586.8,104.5 M624,102.5 C626.5,108 624,117 618.5,122.5 M657.5,117.5 C660,124 656.5,132.5 650,138" fill="none" stroke="#5578ad" stroke-width="0.7"/>
<polygon points="546.3,93.8 561.3,88.5 569,92.3 552.5,97.8" fill="url(#gFinL)" stroke="#14284c" stroke-width="0.9" stroke-linejoin="round"/>
<path d="M626.3,126 L607,140.5 C604.5,143 604,146 606,147.5 C608,149 611,149.2 613,148.2 L640,134 Z" fill="url(#gWingN)" stroke="#14284c" stroke-width="0.9" stroke-linejoin="round"/>
<text transform="translate(588.3,98.6) rotate(26.5)" x="0" y="8" style="font-size:11px;fill:#25344f;letter-spacing:-0.3px">TLAM</text>
<polygon points="707,156 713.5,151.5 726,156.5 719.5,161" fill="#ececec" stroke="#555" stroke-width="0.5"/>
<polygon points="707,156 719.5,161 719.5,168.5 707,163.5" fill="#b9b9b9" stroke="#555" stroke-width="0.5"/>
<polygon points="719.5,161 726,156.5 726,164 719.5,168.5" fill="#767676" stroke="#555" stroke-width="0.5"/>
<text x="364.5" y="21" text-anchor="middle">In-flight correction</text>
<text x="234" y="50" text-anchor="start">DT POS</text>
<text x="344.5" y="50" text-anchor="start">CT POS</text>
<text x="419" y="150" text-anchor="start">Position fix</text>
<text x="216" y="203" text-anchor="middle">Reference map</text>
<text x="216" y="216" text-anchor="middle">production</text>
<text x="145.5" y="249.5" text-anchor="middle">High-altitude</text>
<text x="145.5" y="262" text-anchor="middle">reconnaissance</text>
<text x="145.5" y="274.5" text-anchor="middle">camera</text>
<text x="235" y="354.5" text-anchor="middle">Mapped</text>
<text x="235" y="367" text-anchor="middle">terrain</text>
<text x="228.5" y="488" text-anchor="start" style="fill:#fff">Reference area</text>
<text x="287" y="345" text-anchor="start">Map A</text>
<text x="361" y="398.5" text-anchor="start">Map B</text>
<text x="449.5" y="460" text-anchor="start">Map C</text>
<text x="461" y="314" text-anchor="middle">TERCOM</text>
<text x="461" y="327.5" text-anchor="middle">map set</text>
<text x="600.5" y="171" text-anchor="middle">Measured terrain</text>
<text x="600.5" y="184" text-anchor="middle">elevation profile</text>
<text x="737.5" y="88.3" text-anchor="middle">Radar</text>
<text x="737.5" y="101" text-anchor="middle">altimeter</text>
<text x="531.5" y="497.5" text-anchor="start" style="font-size:12.9px">TERCOM voting</text>
<text x="538.5" y="514" text-anchor="start" style="font-size:12.9px">&#8226; Pairs of position fixes compared</text>
<text x="538.5" y="531" text-anchor="start" style="font-size:12.9px">&#8226; One pair must agree for NAV update</text>
</svg>
</body></html>
